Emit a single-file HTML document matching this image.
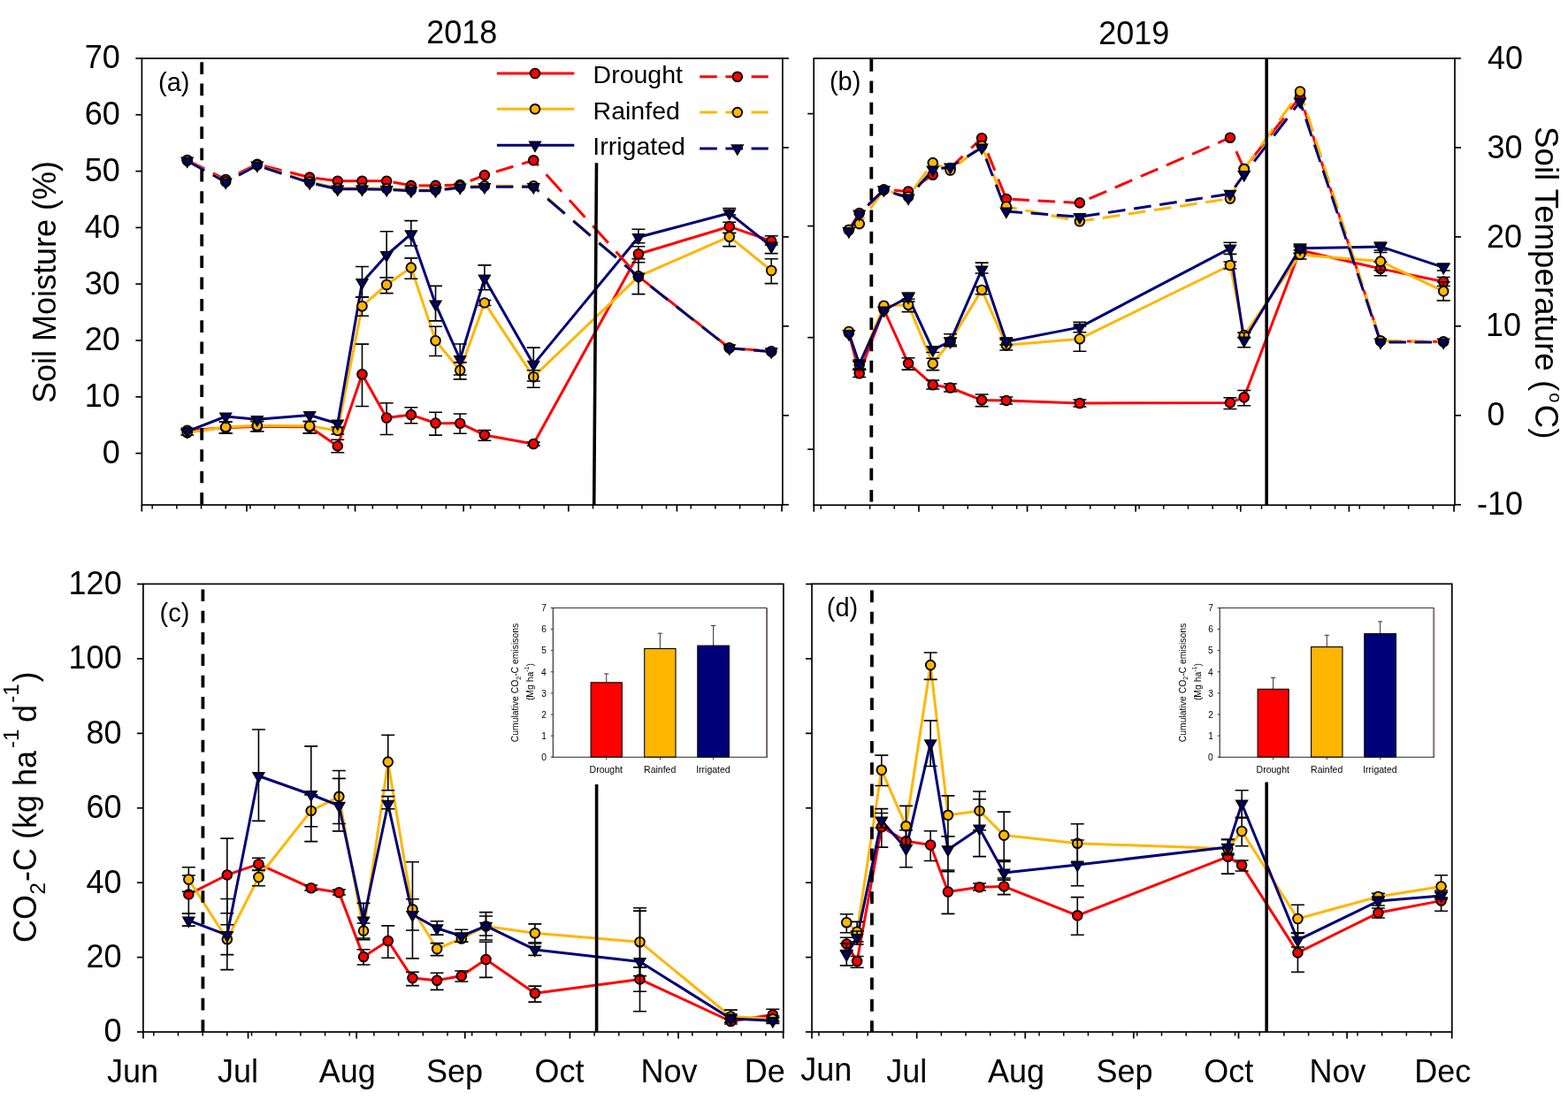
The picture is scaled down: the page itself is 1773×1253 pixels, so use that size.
<!DOCTYPE html><html><head><meta charset="utf-8"><title>Soil moisture, temperature and CO2-C</title><style>html,body{margin:0;padding:0;background:#fff;}</style></head><body><svg width="1773" height="1253" viewBox="0 0 1773 1253" style="display:block;font-family:'Liberation Sans',Arial,sans-serif">
<rect width="1773" height="1253" fill="#fff"/>
<text x="482.3" y="49.3" font-size="36">2018</text>
<text x="1242.3" y="49.8" font-size="36">2019</text>
<line x1="153.4" y1="512.6" x2="160.4" y2="512.6" stroke="#000" stroke-width="1.7"/>
<line x1="153.4" y1="448.8" x2="160.4" y2="448.8" stroke="#000" stroke-width="1.7"/>
<line x1="153.4" y1="385" x2="160.4" y2="385" stroke="#000" stroke-width="1.7"/>
<line x1="153.4" y1="321.2" x2="160.4" y2="321.2" stroke="#000" stroke-width="1.7"/>
<line x1="153.4" y1="257.4" x2="160.4" y2="257.4" stroke="#000" stroke-width="1.7"/>
<line x1="153.4" y1="193.6" x2="160.4" y2="193.6" stroke="#000" stroke-width="1.7"/>
<line x1="153.4" y1="129.8" x2="160.4" y2="129.8" stroke="#000" stroke-width="1.7"/>
<line x1="153.4" y1="66" x2="160.4" y2="66" stroke="#000" stroke-width="1.7"/>
<text x="115.7" y="524" font-size="36">0</text>
<text x="95.7" y="460.2" font-size="36">10</text>
<text x="95.7" y="396.4" font-size="36">20</text>
<text x="95.7" y="332.6" font-size="36">30</text>
<text x="95.7" y="268.8" font-size="36">40</text>
<text x="95.7" y="205" font-size="36">50</text>
<text x="95.7" y="141.2" font-size="36">60</text>
<text x="95.7" y="77.4" font-size="36">70</text>
<line x1="884.9" y1="570.75" x2="891.9" y2="570.75" stroke="#000" stroke-width="1.7"/>
<line x1="884.9" y1="469.8" x2="891.9" y2="469.8" stroke="#000" stroke-width="1.7"/>
<line x1="884.9" y1="368.85" x2="891.9" y2="368.85" stroke="#000" stroke-width="1.7"/>
<line x1="884.9" y1="267.9" x2="891.9" y2="267.9" stroke="#000" stroke-width="1.7"/>
<line x1="884.9" y1="166.95" x2="891.9" y2="166.95" stroke="#000" stroke-width="1.7"/>
<line x1="884.9" y1="66" x2="891.9" y2="66" stroke="#000" stroke-width="1.7"/>
<line x1="160.3" y1="571" x2="160.3" y2="578.5" stroke="#000" stroke-width="1.7"/>
<line x1="278.95" y1="571" x2="278.95" y2="578.5" stroke="#000" stroke-width="1.7"/>
<line x1="401.56" y1="571" x2="401.56" y2="578.5" stroke="#000" stroke-width="1.7"/>
<line x1="524.16" y1="571" x2="524.16" y2="578.5" stroke="#000" stroke-width="1.7"/>
<line x1="642.81" y1="571" x2="642.81" y2="578.5" stroke="#000" stroke-width="1.7"/>
<line x1="765.41" y1="571" x2="765.41" y2="578.5" stroke="#000" stroke-width="1.7"/>
<line x1="884.07" y1="571" x2="884.07" y2="578.5" stroke="#000" stroke-width="1.7"/>
<line x1="172.17" y1="571" x2="172.17" y2="575.5" stroke="#000" stroke-width="1.5"/>
<line x1="199.85" y1="571" x2="199.85" y2="575.5" stroke="#000" stroke-width="1.5"/>
<line x1="227.54" y1="571" x2="227.54" y2="575.5" stroke="#000" stroke-width="1.5"/>
<line x1="255.22" y1="571" x2="255.22" y2="575.5" stroke="#000" stroke-width="1.5"/>
<line x1="282.91" y1="571" x2="282.91" y2="575.5" stroke="#000" stroke-width="1.5"/>
<line x1="310.59" y1="571" x2="310.59" y2="575.5" stroke="#000" stroke-width="1.5"/>
<line x1="338.27" y1="571" x2="338.27" y2="575.5" stroke="#000" stroke-width="1.5"/>
<line x1="365.96" y1="571" x2="365.96" y2="575.5" stroke="#000" stroke-width="1.5"/>
<line x1="393.64" y1="571" x2="393.64" y2="575.5" stroke="#000" stroke-width="1.5"/>
<line x1="421.33" y1="571" x2="421.33" y2="575.5" stroke="#000" stroke-width="1.5"/>
<line x1="449.02" y1="571" x2="449.02" y2="575.5" stroke="#000" stroke-width="1.5"/>
<line x1="476.7" y1="571" x2="476.7" y2="575.5" stroke="#000" stroke-width="1.5"/>
<line x1="504.38" y1="571" x2="504.38" y2="575.5" stroke="#000" stroke-width="1.5"/>
<line x1="532.07" y1="571" x2="532.07" y2="575.5" stroke="#000" stroke-width="1.5"/>
<line x1="559.75" y1="571" x2="559.75" y2="575.5" stroke="#000" stroke-width="1.5"/>
<line x1="587.44" y1="571" x2="587.44" y2="575.5" stroke="#000" stroke-width="1.5"/>
<line x1="615.12" y1="571" x2="615.12" y2="575.5" stroke="#000" stroke-width="1.5"/>
<line x1="670.5" y1="571" x2="670.5" y2="575.5" stroke="#000" stroke-width="1.5"/>
<line x1="698.18" y1="571" x2="698.18" y2="575.5" stroke="#000" stroke-width="1.5"/>
<line x1="725.87" y1="571" x2="725.87" y2="575.5" stroke="#000" stroke-width="1.5"/>
<line x1="753.55" y1="571" x2="753.55" y2="575.5" stroke="#000" stroke-width="1.5"/>
<line x1="781.24" y1="571" x2="781.24" y2="575.5" stroke="#000" stroke-width="1.5"/>
<line x1="808.92" y1="571" x2="808.92" y2="575.5" stroke="#000" stroke-width="1.5"/>
<line x1="836.61" y1="571" x2="836.61" y2="575.5" stroke="#000" stroke-width="1.5"/>
<line x1="864.29" y1="571" x2="864.29" y2="575.5" stroke="#000" stroke-width="1.5"/>
<text x="179" y="102.5" font-size="29">(a)</text>
<polyline points="211.72,486.8 255.22,483.8 290.82,482.2 350.14,482.8 381.78,504.4 409.47,423.3 437.15,472.5 464.84,469.1 492.52,478.5 520.21,478.7 547.89,491.9 603.26,502 721.91,287.3 824.74,256.2 872.2,272.7" fill="none" stroke="#ff0000" stroke-width="3" stroke-linejoin="round"/>
<polyline points="211.72,489.2 255.22,482.9 290.82,481.3 350.14,481.7 381.78,486.9 409.47,346.2 437.15,322 464.84,302.6 492.52,385.3 520.21,418.8 547.89,342.4 603.26,426.2 721.91,312.6 824.74,267.7 872.2,306" fill="none" stroke="#ffb600" stroke-width="3" stroke-linejoin="round"/>
<polyline points="211.72,487.8 255.22,471 290.82,474.3 350.14,469.5 381.78,479 409.47,319.5 437.15,288.5 464.84,264.6 492.52,343.9 520.21,406.5 547.89,314.9 603.26,412.1 721.91,268.3 824.74,241 872.2,278.7" fill="none" stroke="#000078" stroke-width="3" stroke-linejoin="round"/>
<path d="M255.22 477V490M247.72 477H262.72M247.72 490H262.72" stroke="#000" stroke-width="1.6" fill="none"/>
<path d="M290.82 476.5V487.7M283.32 476.5H298.32M283.32 487.7H298.32" stroke="#000" stroke-width="1.6" fill="none"/>
<path d="M350.14 476.5V489.9M342.64 476.5H357.64M342.64 489.9H357.64" stroke="#000" stroke-width="1.6" fill="none"/>
<path d="M381.78 497.3V511.8M374.28 497.3H389.28M374.28 511.8H389.28" stroke="#000" stroke-width="1.6" fill="none"/>
<path d="M409.47 389.1V459.5M401.97 389.1H416.97M401.97 459.5H416.97" stroke="#000" stroke-width="1.6" fill="none"/>
<path d="M437.15 455.7V491.5M429.65 455.7H444.65M429.65 491.5H444.65" stroke="#000" stroke-width="1.6" fill="none"/>
<path d="M464.84 460.8V478.7M457.34 460.8H472.34M457.34 478.7H472.34" stroke="#000" stroke-width="1.6" fill="none"/>
<path d="M492.52 466.2V492.1M485.02 466.2H500.02M485.02 492.1H500.02" stroke="#000" stroke-width="1.6" fill="none"/>
<path d="M520.21 468V490.3M512.71 468H527.71M512.71 490.3H527.71" stroke="#000" stroke-width="1.6" fill="none"/>
<path d="M547.89 486.5V498.2M540.39 486.5H555.39M540.39 498.2H555.39" stroke="#000" stroke-width="1.6" fill="none"/>
<path d="M603.26 500V504M595.76 500H610.76M595.76 504H610.76" stroke="#000" stroke-width="1.6" fill="none"/>
<path d="M721.91 278.7V296.7M714.41 278.7H729.41M714.41 296.7H729.41" stroke="#000" stroke-width="1.6" fill="none"/>
<path d="M824.74 251.3V263.5M817.24 251.3H832.24M817.24 263.5H832.24" stroke="#000" stroke-width="1.6" fill="none"/>
<path d="M872.2 266.7V277M864.7 266.7H879.7M864.7 277H879.7" stroke="#000" stroke-width="1.6" fill="none"/>
<circle cx="211.72" cy="486.8" r="5.35" fill="#ff0000" stroke="#000" stroke-width="1.85"/>
<circle cx="255.22" cy="483.8" r="5.35" fill="#ff0000" stroke="#000" stroke-width="1.85"/>
<circle cx="290.82" cy="482.2" r="5.35" fill="#ff0000" stroke="#000" stroke-width="1.85"/>
<circle cx="350.14" cy="482.8" r="5.35" fill="#ff0000" stroke="#000" stroke-width="1.85"/>
<circle cx="381.78" cy="504.4" r="5.35" fill="#ff0000" stroke="#000" stroke-width="1.85"/>
<circle cx="409.47" cy="423.3" r="5.35" fill="#ff0000" stroke="#000" stroke-width="1.85"/>
<circle cx="437.15" cy="472.5" r="5.35" fill="#ff0000" stroke="#000" stroke-width="1.85"/>
<circle cx="464.84" cy="469.1" r="5.35" fill="#ff0000" stroke="#000" stroke-width="1.85"/>
<circle cx="492.52" cy="478.5" r="5.35" fill="#ff0000" stroke="#000" stroke-width="1.85"/>
<circle cx="520.21" cy="478.7" r="5.35" fill="#ff0000" stroke="#000" stroke-width="1.85"/>
<circle cx="547.89" cy="491.9" r="5.35" fill="#ff0000" stroke="#000" stroke-width="1.85"/>
<circle cx="603.26" cy="502" r="5.35" fill="#ff0000" stroke="#000" stroke-width="1.85"/>
<circle cx="721.91" cy="287.3" r="5.35" fill="#ff0000" stroke="#000" stroke-width="1.85"/>
<circle cx="824.74" cy="256.2" r="5.35" fill="#ff0000" stroke="#000" stroke-width="1.85"/>
<circle cx="872.2" cy="272.7" r="5.35" fill="#ff0000" stroke="#000" stroke-width="1.85"/>
<path d="M211.72 486V492M204.22 486H219.22M204.22 492H219.22" stroke="#000" stroke-width="1.6" fill="none"/>
<path d="M255.22 477V489.9M247.72 477H262.72M247.72 489.9H262.72" stroke="#000" stroke-width="1.6" fill="none"/>
<path d="M290.82 476.5V487.7M283.32 476.5H298.32M283.32 487.7H298.32" stroke="#000" stroke-width="1.6" fill="none"/>
<path d="M350.14 476.5V489.9M342.64 476.5H357.64M342.64 489.9H357.64" stroke="#000" stroke-width="1.6" fill="none"/>
<path d="M381.78 483V491M374.28 483H389.28M374.28 491H389.28" stroke="#000" stroke-width="1.6" fill="none"/>
<path d="M409.47 335.7V357.3M401.97 335.7H416.97M401.97 357.3H416.97" stroke="#000" stroke-width="1.6" fill="none"/>
<path d="M437.15 313.8V331.6M429.65 313.8H444.65M429.65 331.6H444.65" stroke="#000" stroke-width="1.6" fill="none"/>
<path d="M464.84 291.9V315.3M457.34 291.9H472.34M457.34 315.3H472.34" stroke="#000" stroke-width="1.6" fill="none"/>
<path d="M492.52 369.2V402.5M485.02 369.2H500.02M485.02 402.5H500.02" stroke="#000" stroke-width="1.6" fill="none"/>
<path d="M520.21 409.9V428.9M512.71 409.9H527.71M512.71 428.9H527.71" stroke="#000" stroke-width="1.6" fill="none"/>
<path d="M547.89 339.5V345.5M540.39 339.5H555.39M540.39 345.5H555.39" stroke="#000" stroke-width="1.6" fill="none"/>
<path d="M603.26 418.8V438.3M595.76 418.8H610.76M595.76 438.3H610.76" stroke="#000" stroke-width="1.6" fill="none"/>
<path d="M721.91 292.6V332.6M714.41 292.6H729.41M714.41 332.6H729.41" stroke="#000" stroke-width="1.6" fill="none"/>
<path d="M824.74 263.5V278.6M817.24 263.5H832.24M817.24 278.6H832.24" stroke="#000" stroke-width="1.6" fill="none"/>
<path d="M872.2 292.7V320.6M864.7 292.7H879.7M864.7 320.6H879.7" stroke="#000" stroke-width="1.6" fill="none"/>
<circle cx="211.72" cy="489.2" r="5.35" fill="#ffb600" stroke="#000" stroke-width="1.85"/>
<circle cx="255.22" cy="482.9" r="5.35" fill="#ffb600" stroke="#000" stroke-width="1.85"/>
<circle cx="290.82" cy="481.3" r="5.35" fill="#ffb600" stroke="#000" stroke-width="1.85"/>
<circle cx="350.14" cy="481.7" r="5.35" fill="#ffb600" stroke="#000" stroke-width="1.85"/>
<circle cx="381.78" cy="486.9" r="5.35" fill="#ffb600" stroke="#000" stroke-width="1.85"/>
<circle cx="409.47" cy="346.2" r="5.35" fill="#ffb600" stroke="#000" stroke-width="1.85"/>
<circle cx="437.15" cy="322" r="5.35" fill="#ffb600" stroke="#000" stroke-width="1.85"/>
<circle cx="464.84" cy="302.6" r="5.35" fill="#ffb600" stroke="#000" stroke-width="1.85"/>
<circle cx="492.52" cy="385.3" r="5.35" fill="#ffb600" stroke="#000" stroke-width="1.85"/>
<circle cx="520.21" cy="418.8" r="5.35" fill="#ffb600" stroke="#000" stroke-width="1.85"/>
<circle cx="547.89" cy="342.4" r="5.35" fill="#ffb600" stroke="#000" stroke-width="1.85"/>
<circle cx="603.26" cy="426.2" r="5.35" fill="#ffb600" stroke="#000" stroke-width="1.85"/>
<circle cx="721.91" cy="312.6" r="5.35" fill="#ffb600" stroke="#000" stroke-width="1.85"/>
<circle cx="824.74" cy="267.7" r="5.35" fill="#ffb600" stroke="#000" stroke-width="1.85"/>
<circle cx="872.2" cy="306" r="5.35" fill="#ffb600" stroke="#000" stroke-width="1.85"/>
<path d="M409.47 301.5V336.1M401.97 301.5H416.97M401.97 336.1H416.97" stroke="#000" stroke-width="1.6" fill="none"/>
<path d="M437.15 261.7V313.8M429.65 261.7H444.65M429.65 313.8H444.65" stroke="#000" stroke-width="1.6" fill="none"/>
<path d="M464.84 249.6V278M457.34 249.6H472.34M457.34 278H472.34" stroke="#000" stroke-width="1.6" fill="none"/>
<path d="M492.52 323.4V362.9M485.02 323.4H500.02M485.02 362.9H500.02" stroke="#000" stroke-width="1.6" fill="none"/>
<path d="M520.21 389V424M512.71 389H527.71M512.71 424H527.71" stroke="#000" stroke-width="1.6" fill="none"/>
<path d="M547.89 299.9V327.8M540.39 299.9H555.39M540.39 327.8H555.39" stroke="#000" stroke-width="1.6" fill="none"/>
<path d="M603.26 393.1V431M595.76 393.1H610.76M595.76 431H610.76" stroke="#000" stroke-width="1.6" fill="none"/>
<path d="M721.91 259.3V274.8M714.41 259.3H729.41M714.41 274.8H729.41" stroke="#000" stroke-width="1.6" fill="none"/>
<path d="M824.74 235.5V243M817.24 235.5H832.24M817.24 243H832.24" stroke="#000" stroke-width="1.6" fill="none"/>
<path d="M872.2 274.3V286.6M864.7 274.3H879.7M864.7 286.6H879.7" stroke="#000" stroke-width="1.6" fill="none"/>
<polygon points="205.65,484.3 217.78,484.3 211.72,494.8" fill="#000078" stroke="#000" stroke-width="1.85" stroke-linejoin="miter"/>
<polygon points="249.16,467.5 261.28,467.5 255.22,478" fill="#000078" stroke="#000" stroke-width="1.85" stroke-linejoin="miter"/>
<polygon points="284.75,470.8 296.88,470.8 290.82,481.3" fill="#000078" stroke="#000" stroke-width="1.85" stroke-linejoin="miter"/>
<polygon points="344.08,466 356.2,466 350.14,476.5" fill="#000078" stroke="#000" stroke-width="1.85" stroke-linejoin="miter"/>
<polygon points="375.72,475.5 387.84,475.5 381.78,486" fill="#000078" stroke="#000" stroke-width="1.85" stroke-linejoin="miter"/>
<polygon points="403.4,316 415.53,316 409.47,326.5" fill="#000078" stroke="#000" stroke-width="1.85" stroke-linejoin="miter"/>
<polygon points="431.09,285 443.21,285 437.15,295.5" fill="#000078" stroke="#000" stroke-width="1.85" stroke-linejoin="miter"/>
<polygon points="458.77,261.1 470.9,261.1 464.84,271.6" fill="#000078" stroke="#000" stroke-width="1.85" stroke-linejoin="miter"/>
<polygon points="486.46,340.4 498.58,340.4 492.52,350.9" fill="#000078" stroke="#000" stroke-width="1.85" stroke-linejoin="miter"/>
<polygon points="514.14,403 526.27,403 520.21,413.5" fill="#000078" stroke="#000" stroke-width="1.85" stroke-linejoin="miter"/>
<polygon points="541.83,311.4 553.95,311.4 547.89,321.9" fill="#000078" stroke="#000" stroke-width="1.85" stroke-linejoin="miter"/>
<polygon points="597.2,408.6 609.32,408.6 603.26,419.1" fill="#000078" stroke="#000" stroke-width="1.85" stroke-linejoin="miter"/>
<polygon points="715.85,264.8 727.97,264.8 721.91,275.3" fill="#000078" stroke="#000" stroke-width="1.85" stroke-linejoin="miter"/>
<polygon points="818.68,237.5 830.8,237.5 824.74,248" fill="#000078" stroke="#000" stroke-width="1.85" stroke-linejoin="miter"/>
<polygon points="866.14,275.2 878.26,275.2 872.2,285.7" fill="#000078" stroke="#000" stroke-width="1.85" stroke-linejoin="miter"/>
<line x1="211.72" y1="181" x2="255.22" y2="203" stroke="#ff0000" stroke-width="3" stroke-dasharray="21.85 10.76" stroke-dashoffset="0"/>
<line x1="255.22" y1="203" x2="290.82" y2="185.7" stroke="#ff0000" stroke-width="3" stroke-dasharray="21.68 10.67" stroke-dashoffset="16.02"/>
<line x1="290.82" y1="185.7" x2="350.14" y2="200.6" stroke="#ff0000" stroke-width="3" stroke-dasharray="20.11 9.9" stroke-dashoffset="21.55"/>
<line x1="350.14" y1="200.6" x2="381.78" y2="204.7" stroke="#ff0000" stroke-width="3" stroke-dasharray="19.66 9.68" stroke-dashoffset="22.21"/>
<line x1="381.78" y1="204.7" x2="409.47" y2="204.7" stroke="#ff0000" stroke-width="3" stroke-dasharray="19.5 9.6" stroke-dashoffset="24.57"/>
<line x1="409.47" y1="204.7" x2="437.15" y2="204.7" stroke="#ff0000" stroke-width="3" stroke-dasharray="19.5 9.6" stroke-dashoffset="23.15"/>
<line x1="437.15" y1="204.7" x2="464.84" y2="209.9" stroke="#ff0000" stroke-width="3" stroke-dasharray="19.84 9.77" stroke-dashoffset="22.12"/>
<line x1="464.84" y1="209.9" x2="492.52" y2="209.9" stroke="#ff0000" stroke-width="3" stroke-dasharray="19.5 9.6" stroke-dashoffset="20.32"/>
<line x1="492.52" y1="209.9" x2="520.21" y2="209.1" stroke="#ff0000" stroke-width="3" stroke-dasharray="19.51 9.6" stroke-dashoffset="18.91"/>
<line x1="520.21" y1="209.1" x2="547.89" y2="198.1" stroke="#ff0000" stroke-width="3" stroke-dasharray="20.98 10.33" stroke-dashoffset="18.82"/>
<line x1="547.89" y1="198.1" x2="603.26" y2="181.3" stroke="#ff0000" stroke-width="3" stroke-dasharray="20.38 10.03" stroke-dashoffset="16.8"/>
<line x1="603.26" y1="181.3" x2="721.91" y2="312.6" stroke="#ff0000" stroke-width="3" stroke-dasharray="26.28 12.94" stroke-dashoffset="17.85"/>
<line x1="721.91" y1="312.6" x2="824.74" y2="393.4" stroke="#ff0000" stroke-width="3" stroke-dasharray="24.8 12.21" stroke-dashoffset="35.79"/>
<line x1="824.74" y1="393.4" x2="872.2" y2="397.4" stroke="#ff0000" stroke-width="3" stroke-dasharray="19.57 9.63" stroke-dashoffset="14.63"/>
<line x1="211.72" y1="181.5" x2="255.22" y2="205.5" stroke="#ffb600" stroke-width="3" stroke-dasharray="22.27 10.96" stroke-dashoffset="0"/>
<line x1="255.22" y1="205.5" x2="290.82" y2="186.5" stroke="#ffb600" stroke-width="3" stroke-dasharray="22.1 10.88" stroke-dashoffset="16.33"/>
<line x1="290.82" y1="186.5" x2="350.14" y2="205.7" stroke="#ffb600" stroke-width="3" stroke-dasharray="20.5 10.09" stroke-dashoffset="21.97"/>
<line x1="350.14" y1="205.7" x2="381.78" y2="212.8" stroke="#ffb600" stroke-width="3" stroke-dasharray="19.98 9.84" stroke-dashoffset="22.57"/>
<line x1="381.78" y1="212.8" x2="409.47" y2="212.8" stroke="#ffb600" stroke-width="3" stroke-dasharray="19.5 9.6" stroke-dashoffset="24.57"/>
<line x1="409.47" y1="212.8" x2="437.15" y2="213.3" stroke="#ffb600" stroke-width="3" stroke-dasharray="19.5 9.6" stroke-dashoffset="23.15"/>
<line x1="437.15" y1="213.3" x2="464.84" y2="214.7" stroke="#ffb600" stroke-width="3" stroke-dasharray="19.52 9.61" stroke-dashoffset="21.76"/>
<line x1="464.84" y1="214.7" x2="492.52" y2="214.7" stroke="#ffb600" stroke-width="3" stroke-dasharray="19.5 9.6" stroke-dashoffset="20.32"/>
<line x1="492.52" y1="214.7" x2="520.21" y2="211" stroke="#ffb600" stroke-width="3" stroke-dasharray="19.67 9.69" stroke-dashoffset="19.07"/>
<line x1="520.21" y1="211" x2="547.89" y2="210.3" stroke="#ffb600" stroke-width="3" stroke-dasharray="19.51 9.6" stroke-dashoffset="17.5"/>
<line x1="547.89" y1="210.3" x2="603.26" y2="210.3" stroke="#ffb600" stroke-width="3" stroke-dasharray="19.5 9.6" stroke-dashoffset="16.08"/>
<line x1="603.26" y1="210.3" x2="721.91" y2="312.6" stroke="#ffb600" stroke-width="3" stroke-dasharray="25.75 12.68" stroke-dashoffset="17.49"/>
<line x1="721.91" y1="312.6" x2="824.74" y2="393.4" stroke="#ffb600" stroke-width="3" stroke-dasharray="24.8 12.21" stroke-dashoffset="19.71"/>
<line x1="824.74" y1="393.4" x2="872.2" y2="397.4" stroke="#ffb600" stroke-width="3" stroke-dasharray="19.57 9.63" stroke-dashoffset="1.93"/>
<line x1="211.72" y1="182" x2="255.22" y2="206" stroke="#000078" stroke-width="3" stroke-dasharray="22.27 10.96" stroke-dashoffset="0"/>
<line x1="255.22" y1="206" x2="290.82" y2="187" stroke="#000078" stroke-width="3" stroke-dasharray="22.1 10.88" stroke-dashoffset="16.33"/>
<line x1="290.82" y1="187" x2="350.14" y2="206.7" stroke="#000078" stroke-width="3" stroke-dasharray="20.55 10.12" stroke-dashoffset="22.02"/>
<line x1="350.14" y1="206.7" x2="381.78" y2="213.8" stroke="#000078" stroke-width="3" stroke-dasharray="19.98 9.84" stroke-dashoffset="22.57"/>
<line x1="381.78" y1="213.8" x2="409.47" y2="213.8" stroke="#000078" stroke-width="3" stroke-dasharray="19.5 9.6" stroke-dashoffset="24.57"/>
<line x1="409.47" y1="213.8" x2="437.15" y2="214.3" stroke="#000078" stroke-width="3" stroke-dasharray="19.5 9.6" stroke-dashoffset="23.15"/>
<line x1="437.15" y1="214.3" x2="464.84" y2="215.7" stroke="#000078" stroke-width="3" stroke-dasharray="19.52 9.61" stroke-dashoffset="21.76"/>
<line x1="464.84" y1="215.7" x2="492.52" y2="215.7" stroke="#000078" stroke-width="3" stroke-dasharray="19.5 9.6" stroke-dashoffset="20.32"/>
<line x1="492.52" y1="215.7" x2="520.21" y2="212" stroke="#000078" stroke-width="3" stroke-dasharray="19.67 9.69" stroke-dashoffset="19.07"/>
<line x1="520.21" y1="212" x2="547.89" y2="211.3" stroke="#000078" stroke-width="3" stroke-dasharray="19.51 9.6" stroke-dashoffset="17.5"/>
<line x1="547.89" y1="211.3" x2="603.26" y2="211.3" stroke="#000078" stroke-width="3" stroke-dasharray="19.5 9.6" stroke-dashoffset="16.08"/>
<line x1="603.26" y1="211.3" x2="721.91" y2="313" stroke="#000078" stroke-width="3" stroke-dasharray="25.68 12.64" stroke-dashoffset="17.44"/>
<line x1="721.91" y1="313" x2="824.74" y2="393.7" stroke="#000078" stroke-width="3" stroke-dasharray="24.79 12.2" stroke-dashoffset="19.7"/>
<line x1="824.74" y1="393.7" x2="872.2" y2="397.7" stroke="#000078" stroke-width="3" stroke-dasharray="19.57 9.63" stroke-dashoffset="1.93"/>
<circle cx="211.72" cy="181" r="5.35" fill="#ff0000" stroke="#000" stroke-width="1.85"/>
<circle cx="255.22" cy="203" r="5.35" fill="#ff0000" stroke="#000" stroke-width="1.85"/>
<circle cx="290.82" cy="185.7" r="5.35" fill="#ff0000" stroke="#000" stroke-width="1.85"/>
<circle cx="350.14" cy="200.6" r="5.35" fill="#ff0000" stroke="#000" stroke-width="1.85"/>
<circle cx="381.78" cy="204.7" r="5.35" fill="#ff0000" stroke="#000" stroke-width="1.85"/>
<circle cx="409.47" cy="204.7" r="5.35" fill="#ff0000" stroke="#000" stroke-width="1.85"/>
<circle cx="437.15" cy="204.7" r="5.35" fill="#ff0000" stroke="#000" stroke-width="1.85"/>
<circle cx="464.84" cy="209.9" r="5.35" fill="#ff0000" stroke="#000" stroke-width="1.85"/>
<circle cx="492.52" cy="209.9" r="5.35" fill="#ff0000" stroke="#000" stroke-width="1.85"/>
<circle cx="520.21" cy="209.1" r="5.35" fill="#ff0000" stroke="#000" stroke-width="1.85"/>
<circle cx="547.89" cy="198.1" r="5.35" fill="#ff0000" stroke="#000" stroke-width="1.85"/>
<circle cx="603.26" cy="181.3" r="5.35" fill="#ff0000" stroke="#000" stroke-width="1.85"/>
<circle cx="721.91" cy="312.6" r="5.35" fill="#ff0000" stroke="#000" stroke-width="1.85"/>
<circle cx="824.74" cy="393.4" r="5.35" fill="#ff0000" stroke="#000" stroke-width="1.85"/>
<circle cx="872.2" cy="397.4" r="5.35" fill="#ff0000" stroke="#000" stroke-width="1.85"/>
<circle cx="211.72" cy="181.5" r="5.35" fill="#ffb600" stroke="#000" stroke-width="1.85"/>
<circle cx="255.22" cy="205.5" r="5.35" fill="#ffb600" stroke="#000" stroke-width="1.85"/>
<circle cx="290.82" cy="186.5" r="5.35" fill="#ffb600" stroke="#000" stroke-width="1.85"/>
<circle cx="350.14" cy="205.7" r="5.35" fill="#ffb600" stroke="#000" stroke-width="1.85"/>
<circle cx="381.78" cy="212.8" r="5.35" fill="#ffb600" stroke="#000" stroke-width="1.85"/>
<circle cx="409.47" cy="212.8" r="5.35" fill="#ffb600" stroke="#000" stroke-width="1.85"/>
<circle cx="437.15" cy="213.3" r="5.35" fill="#ffb600" stroke="#000" stroke-width="1.85"/>
<circle cx="464.84" cy="214.7" r="5.35" fill="#ffb600" stroke="#000" stroke-width="1.85"/>
<circle cx="492.52" cy="214.7" r="5.35" fill="#ffb600" stroke="#000" stroke-width="1.85"/>
<circle cx="520.21" cy="211" r="5.35" fill="#ffb600" stroke="#000" stroke-width="1.85"/>
<circle cx="547.89" cy="210.3" r="5.35" fill="#ffb600" stroke="#000" stroke-width="1.85"/>
<circle cx="603.26" cy="210.3" r="5.35" fill="#ffb600" stroke="#000" stroke-width="1.85"/>
<circle cx="721.91" cy="312.6" r="5.35" fill="#ffb600" stroke="#000" stroke-width="1.85"/>
<circle cx="824.74" cy="393.4" r="5.35" fill="#ffb600" stroke="#000" stroke-width="1.85"/>
<circle cx="872.2" cy="397.4" r="5.35" fill="#ffb600" stroke="#000" stroke-width="1.85"/>
<polygon points="205.65,178.5 217.78,178.5 211.72,189" fill="#000078" stroke="#000" stroke-width="1.85" stroke-linejoin="miter"/>
<polygon points="249.16,202.5 261.28,202.5 255.22,213" fill="#000078" stroke="#000" stroke-width="1.85" stroke-linejoin="miter"/>
<polygon points="284.75,183.5 296.88,183.5 290.82,194" fill="#000078" stroke="#000" stroke-width="1.85" stroke-linejoin="miter"/>
<polygon points="344.08,203.2 356.2,203.2 350.14,213.7" fill="#000078" stroke="#000" stroke-width="1.85" stroke-linejoin="miter"/>
<polygon points="375.72,210.3 387.84,210.3 381.78,220.8" fill="#000078" stroke="#000" stroke-width="1.85" stroke-linejoin="miter"/>
<polygon points="403.4,210.3 415.53,210.3 409.47,220.8" fill="#000078" stroke="#000" stroke-width="1.85" stroke-linejoin="miter"/>
<polygon points="431.09,210.8 443.21,210.8 437.15,221.3" fill="#000078" stroke="#000" stroke-width="1.85" stroke-linejoin="miter"/>
<polygon points="458.77,212.2 470.9,212.2 464.84,222.7" fill="#000078" stroke="#000" stroke-width="1.85" stroke-linejoin="miter"/>
<polygon points="486.46,212.2 498.58,212.2 492.52,222.7" fill="#000078" stroke="#000" stroke-width="1.85" stroke-linejoin="miter"/>
<polygon points="514.14,208.5 526.27,208.5 520.21,219" fill="#000078" stroke="#000" stroke-width="1.85" stroke-linejoin="miter"/>
<polygon points="541.83,207.8 553.95,207.8 547.89,218.3" fill="#000078" stroke="#000" stroke-width="1.85" stroke-linejoin="miter"/>
<polygon points="597.2,207.8 609.32,207.8 603.26,218.3" fill="#000078" stroke="#000" stroke-width="1.85" stroke-linejoin="miter"/>
<polygon points="715.85,309.5 727.97,309.5 721.91,320" fill="#000078" stroke="#000" stroke-width="1.85" stroke-linejoin="miter"/>
<polygon points="818.68,390.2 830.8,390.2 824.74,400.7" fill="#000078" stroke="#000" stroke-width="1.85" stroke-linejoin="miter"/>
<polygon points="866.14,394.2 878.26,394.2 872.2,404.7" fill="#000078" stroke="#000" stroke-width="1.85" stroke-linejoin="miter"/>
<line x1="561.9" y1="83" x2="649.3" y2="83" stroke="#ff0000" stroke-width="3"/>
<circle cx="605" cy="83" r="5.35" fill="#ff0000" stroke="#000" stroke-width="1.85"/>
<text x="670.6" y="93.7" font-size="28.5">Drought</text>
<line x1="791.2" y1="86.8" x2="868.7" y2="86.8" stroke="#ff0000" stroke-width="3" stroke-dasharray="19.6 9.6"/>
<circle cx="833.8" cy="86.8" r="5.35" fill="#ff0000" stroke="#000" stroke-width="1.85"/>
<line x1="561.9" y1="123.3" x2="649.3" y2="123.3" stroke="#ffb600" stroke-width="3"/>
<circle cx="605" cy="123.3" r="5.35" fill="#ffb600" stroke="#000" stroke-width="1.85"/>
<text x="670.6" y="134.7" font-size="28.5">Rainfed</text>
<line x1="791.2" y1="127.1" x2="868.7" y2="127.1" stroke="#ffb600" stroke-width="3" stroke-dasharray="19.6 9.6"/>
<circle cx="833.8" cy="127.1" r="5.35" fill="#ffb600" stroke="#000" stroke-width="1.85"/>
<line x1="561.9" y1="164.3" x2="649.3" y2="164.3" stroke="#000078" stroke-width="3"/>
<polygon points="598.94,160.3 611.06,160.3 605,170.8" fill="#000078" stroke="#000" stroke-width="1.85" stroke-linejoin="miter"/>
<text x="670.3" y="174.7" font-size="28.5">Irrigated</text>
<line x1="791.2" y1="168.1" x2="868.7" y2="168.1" stroke="#000078" stroke-width="3" stroke-dasharray="19.6 9.6"/>
<polygon points="827.74,164.1 839.86,164.1 833.8,174.6" fill="#000078" stroke="#000" stroke-width="1.85" stroke-linejoin="miter"/>
<line x1="228.2" y1="70.2" x2="228.2" y2="571" stroke="#000" stroke-width="3.8" stroke-dasharray="13.7 10.64"/>
<line x1="674.5" y1="184.2" x2="671.7" y2="571" stroke="#000" stroke-width="3.6"/>
<rect x="160.4" y="66" width="724.5" height="505" fill="none" stroke="#000" stroke-width="1.7"/>
<line x1="913.2" y1="128.6" x2="920.2" y2="128.6" stroke="#000" stroke-width="1.7"/>
<line x1="913.2" y1="255.6" x2="920.2" y2="255.6" stroke="#000" stroke-width="1.7"/>
<line x1="913.2" y1="381.7" x2="920.2" y2="381.7" stroke="#000" stroke-width="1.7"/>
<line x1="913.2" y1="508.1" x2="920.2" y2="508.1" stroke="#000" stroke-width="1.7"/>
<line x1="1645" y1="570.75" x2="1652" y2="570.75" stroke="#000" stroke-width="1.7"/>
<line x1="1645" y1="469.8" x2="1652" y2="469.8" stroke="#000" stroke-width="1.7"/>
<line x1="1645" y1="368.85" x2="1652" y2="368.85" stroke="#000" stroke-width="1.7"/>
<line x1="1645" y1="267.9" x2="1652" y2="267.9" stroke="#000" stroke-width="1.7"/>
<line x1="1645" y1="166.95" x2="1652" y2="166.95" stroke="#000" stroke-width="1.7"/>
<line x1="1645" y1="66" x2="1652" y2="66" stroke="#000" stroke-width="1.7"/>
<text x="1669.9" y="582.35" font-size="36">-10</text>
<text x="1681.4" y="481.4" font-size="36">0</text>
<text x="1680.1" y="380.45" font-size="36">10</text>
<text x="1681" y="279.5" font-size="36">20</text>
<text x="1681.4" y="178.55" font-size="36">30</text>
<text x="1682" y="77.6" font-size="36">40</text>
<line x1="920.3" y1="571.2" x2="920.3" y2="578.7" stroke="#000" stroke-width="1.7"/>
<line x1="1038.95" y1="571.2" x2="1038.95" y2="578.7" stroke="#000" stroke-width="1.7"/>
<line x1="1161.55" y1="571.2" x2="1161.55" y2="578.7" stroke="#000" stroke-width="1.7"/>
<line x1="1284.16" y1="571.2" x2="1284.16" y2="578.7" stroke="#000" stroke-width="1.7"/>
<line x1="1402.81" y1="571.2" x2="1402.81" y2="578.7" stroke="#000" stroke-width="1.7"/>
<line x1="1525.41" y1="571.2" x2="1525.41" y2="578.7" stroke="#000" stroke-width="1.7"/>
<line x1="1644.07" y1="571.2" x2="1644.07" y2="578.7" stroke="#000" stroke-width="1.7"/>
<line x1="928.21" y1="571.2" x2="928.21" y2="575.7" stroke="#000" stroke-width="1.5"/>
<line x1="955.89" y1="571.2" x2="955.89" y2="575.7" stroke="#000" stroke-width="1.5"/>
<line x1="983.58" y1="571.2" x2="983.58" y2="575.7" stroke="#000" stroke-width="1.5"/>
<line x1="1011.26" y1="571.2" x2="1011.26" y2="575.7" stroke="#000" stroke-width="1.5"/>
<line x1="1066.63" y1="571.2" x2="1066.63" y2="575.7" stroke="#000" stroke-width="1.5"/>
<line x1="1094.32" y1="571.2" x2="1094.32" y2="575.7" stroke="#000" stroke-width="1.5"/>
<line x1="1122" y1="571.2" x2="1122" y2="575.7" stroke="#000" stroke-width="1.5"/>
<line x1="1149.69" y1="571.2" x2="1149.69" y2="575.7" stroke="#000" stroke-width="1.5"/>
<line x1="1177.38" y1="571.2" x2="1177.38" y2="575.7" stroke="#000" stroke-width="1.5"/>
<line x1="1205.06" y1="571.2" x2="1205.06" y2="575.7" stroke="#000" stroke-width="1.5"/>
<line x1="1232.74" y1="571.2" x2="1232.74" y2="575.7" stroke="#000" stroke-width="1.5"/>
<line x1="1260.43" y1="571.2" x2="1260.43" y2="575.7" stroke="#000" stroke-width="1.5"/>
<line x1="1288.12" y1="571.2" x2="1288.12" y2="575.7" stroke="#000" stroke-width="1.5"/>
<line x1="1315.8" y1="571.2" x2="1315.8" y2="575.7" stroke="#000" stroke-width="1.5"/>
<line x1="1343.48" y1="571.2" x2="1343.48" y2="575.7" stroke="#000" stroke-width="1.5"/>
<line x1="1371.17" y1="571.2" x2="1371.17" y2="575.7" stroke="#000" stroke-width="1.5"/>
<line x1="1398.86" y1="571.2" x2="1398.86" y2="575.7" stroke="#000" stroke-width="1.5"/>
<line x1="1426.54" y1="571.2" x2="1426.54" y2="575.7" stroke="#000" stroke-width="1.5"/>
<line x1="1454.22" y1="571.2" x2="1454.22" y2="575.7" stroke="#000" stroke-width="1.5"/>
<line x1="1481.91" y1="571.2" x2="1481.91" y2="575.7" stroke="#000" stroke-width="1.5"/>
<line x1="1509.59" y1="571.2" x2="1509.59" y2="575.7" stroke="#000" stroke-width="1.5"/>
<line x1="1537.28" y1="571.2" x2="1537.28" y2="575.7" stroke="#000" stroke-width="1.5"/>
<line x1="1564.96" y1="571.2" x2="1564.96" y2="575.7" stroke="#000" stroke-width="1.5"/>
<line x1="1592.65" y1="571.2" x2="1592.65" y2="575.7" stroke="#000" stroke-width="1.5"/>
<line x1="1620.34" y1="571.2" x2="1620.34" y2="575.7" stroke="#000" stroke-width="1.5"/>
<text x="937.9" y="101.6" font-size="29">(b)</text>
<polyline points="959.85,376.5 971.71,422.3 999.4,350 1027.09,410.9 1054.77,435.2 1074.55,438.5 1110.14,452.4 1137.83,452.9 1220.88,456 1390.94,455.4 1406.76,449.3 1470.05,283 1561.01,303.9 1632.2,318.5" fill="none" stroke="#ff0000" stroke-width="3" stroke-linejoin="round"/>
<polyline points="959.85,375 971.71,412.5 999.4,345.8 1027.09,344.7 1054.77,411.2 1074.55,386.2 1110.14,327.9 1137.83,390.2 1220.88,383.2 1390.94,300 1406.76,379.1 1470.05,287.9 1561.01,295.6 1632.2,329.3" fill="none" stroke="#ffb600" stroke-width="3" stroke-linejoin="round"/>
<polyline points="959.85,377.5 971.71,411.8 999.4,351 1027.09,335.9 1054.77,395.7 1074.55,386.2 1110.14,304.8 1137.83,386.2 1220.88,370.1 1390.94,280.8 1406.76,385 1470.05,280.8 1561.01,278.9 1632.2,302.3" fill="none" stroke="#000078" stroke-width="3" stroke-linejoin="round"/>
<path d="M971.71 418.5V426.5M964.21 418.5H979.21M964.21 426.5H979.21" stroke="#000" stroke-width="1.6" fill="none"/>
<path d="M1027.09 404.8V418.1M1019.59 404.8H1034.59M1019.59 418.1H1034.59" stroke="#000" stroke-width="1.6" fill="none"/>
<path d="M1054.77 430V440M1047.27 430H1062.27M1047.27 440H1062.27" stroke="#000" stroke-width="1.6" fill="none"/>
<path d="M1074.55 434V443M1067.05 434H1082.05M1067.05 443H1082.05" stroke="#000" stroke-width="1.6" fill="none"/>
<path d="M1110.14 446V459.6M1102.64 446H1117.64M1102.64 459.6H1117.64" stroke="#000" stroke-width="1.6" fill="none"/>
<path d="M1137.83 449V457M1130.33 449H1145.33M1130.33 457H1145.33" stroke="#000" stroke-width="1.6" fill="none"/>
<path d="M1220.88 452V460M1213.38 452H1228.38M1213.38 460H1228.38" stroke="#000" stroke-width="1.6" fill="none"/>
<path d="M1390.94 449.8V462.5M1383.44 449.8H1398.44M1383.44 462.5H1398.44" stroke="#000" stroke-width="1.6" fill="none"/>
<path d="M1406.76 441.5V458.8M1399.26 441.5H1414.26M1399.26 458.8H1414.26" stroke="#000" stroke-width="1.6" fill="none"/>
<path d="M1470.05 279V287M1462.55 279H1477.55M1462.55 287H1477.55" stroke="#000" stroke-width="1.6" fill="none"/>
<path d="M1561.01 296V311.8M1553.51 296H1568.51M1553.51 311.8H1568.51" stroke="#000" stroke-width="1.6" fill="none"/>
<path d="M1632.2 313.5V323.5M1624.7 313.5H1639.7M1624.7 323.5H1639.7" stroke="#000" stroke-width="1.6" fill="none"/>
<circle cx="959.85" cy="376.5" r="5.35" fill="#ff0000" stroke="#000" stroke-width="1.85"/>
<circle cx="971.71" cy="422.3" r="5.35" fill="#ff0000" stroke="#000" stroke-width="1.85"/>
<circle cx="999.4" cy="350" r="5.35" fill="#ff0000" stroke="#000" stroke-width="1.85"/>
<circle cx="1027.09" cy="410.9" r="5.35" fill="#ff0000" stroke="#000" stroke-width="1.85"/>
<circle cx="1054.77" cy="435.2" r="5.35" fill="#ff0000" stroke="#000" stroke-width="1.85"/>
<circle cx="1074.55" cy="438.5" r="5.35" fill="#ff0000" stroke="#000" stroke-width="1.85"/>
<circle cx="1110.14" cy="452.4" r="5.35" fill="#ff0000" stroke="#000" stroke-width="1.85"/>
<circle cx="1137.83" cy="452.9" r="5.35" fill="#ff0000" stroke="#000" stroke-width="1.85"/>
<circle cx="1220.88" cy="456" r="5.35" fill="#ff0000" stroke="#000" stroke-width="1.85"/>
<circle cx="1390.94" cy="455.4" r="5.35" fill="#ff0000" stroke="#000" stroke-width="1.85"/>
<circle cx="1406.76" cy="449.3" r="5.35" fill="#ff0000" stroke="#000" stroke-width="1.85"/>
<circle cx="1470.05" cy="283" r="5.35" fill="#ff0000" stroke="#000" stroke-width="1.85"/>
<circle cx="1561.01" cy="303.9" r="5.35" fill="#ff0000" stroke="#000" stroke-width="1.85"/>
<circle cx="1632.2" cy="318.5" r="5.35" fill="#ff0000" stroke="#000" stroke-width="1.85"/>
<path d="M971.71 407V418M964.21 407H979.21M964.21 418H979.21" stroke="#000" stroke-width="1.6" fill="none"/>
<path d="M1027.09 338.3V352.6M1019.59 338.3H1034.59M1019.59 352.6H1034.59" stroke="#000" stroke-width="1.6" fill="none"/>
<path d="M1054.77 405.3V418.6M1047.27 405.3H1062.27M1047.27 418.6H1062.27" stroke="#000" stroke-width="1.6" fill="none"/>
<path d="M1074.55 382V390M1067.05 382H1082.05M1067.05 390H1082.05" stroke="#000" stroke-width="1.6" fill="none"/>
<path d="M1110.14 324.4V332.7M1102.64 324.4H1117.64M1102.64 332.7H1117.64" stroke="#000" stroke-width="1.6" fill="none"/>
<path d="M1137.83 384V396M1130.33 384H1145.33M1130.33 396H1145.33" stroke="#000" stroke-width="1.6" fill="none"/>
<path d="M1220.88 369V397.2M1213.38 369H1228.38M1213.38 397.2H1228.38" stroke="#000" stroke-width="1.6" fill="none"/>
<path d="M1390.94 296V304M1383.44 296H1398.44M1383.44 304H1398.44" stroke="#000" stroke-width="1.6" fill="none"/>
<path d="M1406.76 376.3V382M1399.26 376.3H1414.26M1399.26 382H1414.26" stroke="#000" stroke-width="1.6" fill="none"/>
<path d="M1470.05 283V293M1462.55 283H1477.55M1462.55 293H1477.55" stroke="#000" stroke-width="1.6" fill="none"/>
<path d="M1561.01 285.5V305.7M1553.51 285.5H1568.51M1553.51 305.7H1568.51" stroke="#000" stroke-width="1.6" fill="none"/>
<path d="M1632.2 318.7V339.9M1624.7 318.7H1639.7M1624.7 339.9H1639.7" stroke="#000" stroke-width="1.6" fill="none"/>
<circle cx="959.85" cy="375" r="5.35" fill="#ffb600" stroke="#000" stroke-width="1.85"/>
<circle cx="971.71" cy="412.5" r="5.35" fill="#ffb600" stroke="#000" stroke-width="1.85"/>
<circle cx="999.4" cy="345.8" r="5.35" fill="#ffb600" stroke="#000" stroke-width="1.85"/>
<circle cx="1027.09" cy="344.7" r="5.35" fill="#ffb600" stroke="#000" stroke-width="1.85"/>
<circle cx="1054.77" cy="411.2" r="5.35" fill="#ffb600" stroke="#000" stroke-width="1.85"/>
<circle cx="1074.55" cy="386.2" r="5.35" fill="#ffb600" stroke="#000" stroke-width="1.85"/>
<circle cx="1110.14" cy="327.9" r="5.35" fill="#ffb600" stroke="#000" stroke-width="1.85"/>
<circle cx="1137.83" cy="390.2" r="5.35" fill="#ffb600" stroke="#000" stroke-width="1.85"/>
<circle cx="1220.88" cy="383.2" r="5.35" fill="#ffb600" stroke="#000" stroke-width="1.85"/>
<circle cx="1390.94" cy="300" r="5.35" fill="#ffb600" stroke="#000" stroke-width="1.85"/>
<circle cx="1406.76" cy="379.1" r="5.35" fill="#ffb600" stroke="#000" stroke-width="1.85"/>
<circle cx="1470.05" cy="287.9" r="5.35" fill="#ffb600" stroke="#000" stroke-width="1.85"/>
<circle cx="1561.01" cy="295.6" r="5.35" fill="#ffb600" stroke="#000" stroke-width="1.85"/>
<circle cx="1632.2" cy="329.3" r="5.35" fill="#ffb600" stroke="#000" stroke-width="1.85"/>
<path d="M971.71 409V417M964.21 409H979.21M964.21 417H979.21" stroke="#000" stroke-width="1.6" fill="none"/>
<path d="M1027.09 331V341M1019.59 331H1034.59M1019.59 341H1034.59" stroke="#000" stroke-width="1.6" fill="none"/>
<path d="M1054.77 391.7V398.5M1047.27 391.7H1062.27M1047.27 398.5H1062.27" stroke="#000" stroke-width="1.6" fill="none"/>
<path d="M1074.55 377.7V391.7M1067.05 377.7H1082.05M1067.05 391.7H1082.05" stroke="#000" stroke-width="1.6" fill="none"/>
<path d="M1110.14 297.1V309M1102.64 297.1H1117.64M1102.64 309H1117.64" stroke="#000" stroke-width="1.6" fill="none"/>
<path d="M1137.83 382V390M1130.33 382H1145.33M1130.33 390H1145.33" stroke="#000" stroke-width="1.6" fill="none"/>
<path d="M1220.88 364.2V375.8M1213.38 364.2H1228.38M1213.38 375.8H1228.38" stroke="#000" stroke-width="1.6" fill="none"/>
<path d="M1390.94 274.3V287.4M1383.44 274.3H1398.44M1383.44 287.4H1398.44" stroke="#000" stroke-width="1.6" fill="none"/>
<path d="M1406.76 376.3V392.7M1399.26 376.3H1414.26M1399.26 392.7H1414.26" stroke="#000" stroke-width="1.6" fill="none"/>
<path d="M1470.05 276V286M1462.55 276H1477.55M1462.55 286H1477.55" stroke="#000" stroke-width="1.6" fill="none"/>
<path d="M1561.01 274V283M1553.51 274H1568.51M1553.51 283H1568.51" stroke="#000" stroke-width="1.6" fill="none"/>
<path d="M1632.2 298V306M1624.7 298H1639.7M1624.7 306H1639.7" stroke="#000" stroke-width="1.6" fill="none"/>
<polygon points="953.79,374 965.91,374 959.85,384.5" fill="#000078" stroke="#000" stroke-width="1.85" stroke-linejoin="miter"/>
<polygon points="965.65,408.3 977.78,408.3 971.71,418.8" fill="#000078" stroke="#000" stroke-width="1.85" stroke-linejoin="miter"/>
<polygon points="993.34,347.5 1005.46,347.5 999.4,358" fill="#000078" stroke="#000" stroke-width="1.85" stroke-linejoin="miter"/>
<polygon points="1021.02,332.4 1033.15,332.4 1027.09,342.9" fill="#000078" stroke="#000" stroke-width="1.85" stroke-linejoin="miter"/>
<polygon points="1048.71,392.2 1060.83,392.2 1054.77,402.7" fill="#000078" stroke="#000" stroke-width="1.85" stroke-linejoin="miter"/>
<polygon points="1068.48,382.7 1080.61,382.7 1074.55,393.2" fill="#000078" stroke="#000" stroke-width="1.85" stroke-linejoin="miter"/>
<polygon points="1104.08,301.3 1116.2,301.3 1110.14,311.8" fill="#000078" stroke="#000" stroke-width="1.85" stroke-linejoin="miter"/>
<polygon points="1131.76,382.7 1143.89,382.7 1137.83,393.2" fill="#000078" stroke="#000" stroke-width="1.85" stroke-linejoin="miter"/>
<polygon points="1214.82,366.6 1226.94,366.6 1220.88,377.1" fill="#000078" stroke="#000" stroke-width="1.85" stroke-linejoin="miter"/>
<polygon points="1384.88,277.3 1397.01,277.3 1390.94,287.8" fill="#000078" stroke="#000" stroke-width="1.85" stroke-linejoin="miter"/>
<polygon points="1400.7,381.5 1412.83,381.5 1406.76,392" fill="#000078" stroke="#000" stroke-width="1.85" stroke-linejoin="miter"/>
<polygon points="1463.98,277.3 1476.11,277.3 1470.05,287.8" fill="#000078" stroke="#000" stroke-width="1.85" stroke-linejoin="miter"/>
<polygon points="1554.95,275.4 1567.07,275.4 1561.01,285.9" fill="#000078" stroke="#000" stroke-width="1.85" stroke-linejoin="miter"/>
<polygon points="1626.14,298.8 1638.26,298.8 1632.2,309.3" fill="#000078" stroke="#000" stroke-width="1.85" stroke-linejoin="miter"/>
<line x1="959.85" y1="260" x2="971.71" y2="241" stroke="#ff0000" stroke-width="3" stroke-dasharray="22.99 11.32" stroke-dashoffset="0"/>
<line x1="971.71" y1="241" x2="999.4" y2="214.5" stroke="#ff0000" stroke-width="3" stroke-dasharray="26.99 13.29" stroke-dashoffset="26.3"/>
<line x1="999.4" y1="214.5" x2="1027.09" y2="216.5" stroke="#ff0000" stroke-width="3" stroke-dasharray="19.55 9.63" stroke-dashoffset="17.63"/>
<line x1="1027.09" y1="216.5" x2="1054.77" y2="197.7" stroke="#ff0000" stroke-width="3" stroke-dasharray="23.57 11.6" stroke-dashoffset="19.55"/>
<line x1="1054.77" y1="197.7" x2="1074.55" y2="190" stroke="#ff0000" stroke-width="3" stroke-dasharray="20.93 10.3" stroke-dashoffset="15.83"/>
<line x1="1074.55" y1="190" x2="1110.14" y2="156.2" stroke="#ff0000" stroke-width="3" stroke-dasharray="26.89 13.24" stroke-dashoffset="7.49"/>
<line x1="1110.14" y1="156.2" x2="1137.83" y2="225" stroke="#ff0000" stroke-width="3" stroke-dasharray="21.02 10.35" stroke-dashoffset="12.85"/>
<line x1="1137.83" y1="225" x2="1220.88" y2="229.4" stroke="#ff0000" stroke-width="3" stroke-dasharray="19.53 9.61" stroke-dashoffset="22.56"/>
<line x1="1220.88" y1="229.4" x2="1390.94" y2="155.7" stroke="#ff0000" stroke-width="3" stroke-dasharray="21.25 10.46" stroke-dashoffset="19.92"/>
<line x1="1390.94" y1="155.7" x2="1406.76" y2="191" stroke="#ff0000" stroke-width="3" stroke-dasharray="21.37 10.52" stroke-dashoffset="15.06"/>
<line x1="1406.76" y1="191" x2="1470.05" y2="109.5" stroke="#ff0000" stroke-width="3" stroke-dasharray="24.69 12.15" stroke-dashoffset="25.25"/>
<line x1="1470.05" y1="109.5" x2="1561.01" y2="385.5" stroke="#ff0000" stroke-width="3" stroke-dasharray="20.53 10.11" stroke-dashoffset="14.89"/>
<line x1="1561.01" y1="385.5" x2="1632.2" y2="386.4" stroke="#ff0000" stroke-width="3" stroke-dasharray="19.5 9.6" stroke-dashoffset="28.25"/>
<line x1="959.85" y1="260" x2="971.71" y2="253.1" stroke="#ffb600" stroke-width="3" stroke-dasharray="22.56 11.11" stroke-dashoffset="0"/>
<line x1="971.71" y1="253.1" x2="999.4" y2="214.6" stroke="#ffb600" stroke-width="3" stroke-dasharray="24.02 11.82" stroke-dashoffset="14.61"/>
<line x1="999.4" y1="214.6" x2="1027.09" y2="222.5" stroke="#ffb600" stroke-width="3" stroke-dasharray="20.28 9.98" stroke-dashoffset="22.11"/>
<line x1="1027.09" y1="222.5" x2="1054.77" y2="184.1" stroke="#ffb600" stroke-width="3" stroke-dasharray="24.04 11.83" stroke-dashoffset="24.47"/>
<line x1="1054.77" y1="184.1" x2="1074.55" y2="192.5" stroke="#ffb600" stroke-width="3" stroke-dasharray="21.19 10.43" stroke-dashoffset="0.05"/>
<line x1="1074.55" y1="192.5" x2="1110.14" y2="165" stroke="#ffb600" stroke-width="3" stroke-dasharray="24.64 12.13" stroke-dashoffset="25.05"/>
<line x1="1110.14" y1="165" x2="1137.83" y2="233.5" stroke="#ffb600" stroke-width="3" stroke-dasharray="21.03 10.35" stroke-dashoffset="28.39"/>
<line x1="1137.83" y1="233.5" x2="1220.88" y2="250.3" stroke="#ffb600" stroke-width="3" stroke-dasharray="19.89 9.79" stroke-dashoffset="7.67"/>
<line x1="1220.88" y1="250.3" x2="1390.94" y2="224.6" stroke="#ffb600" stroke-width="3" stroke-dasharray="19.72 9.71" stroke-dashoffset="3.31"/>
<line x1="1390.94" y1="224.6" x2="1406.76" y2="191.2" stroke="#ffb600" stroke-width="3" stroke-dasharray="21.58 10.62" stroke-dashoffset="30.81"/>
<line x1="1406.76" y1="191.2" x2="1470.05" y2="103.5" stroke="#ffb600" stroke-width="3" stroke-dasharray="24.05 11.84" stroke-dashoffset="3.75"/>
<line x1="1470.05" y1="103.5" x2="1561.01" y2="385.5" stroke="#ffb600" stroke-width="3" stroke-dasharray="20.49 10.09" stroke-dashoffset="3.61"/>
<line x1="1561.01" y1="385.5" x2="1632.2" y2="386.4" stroke="#ffb600" stroke-width="3" stroke-dasharray="19.5 9.6" stroke-dashoffset="23.54"/>
<line x1="959.85" y1="261.4" x2="971.71" y2="241.9" stroke="#000078" stroke-width="3" stroke-dasharray="22.83 11.24" stroke-dashoffset="0"/>
<line x1="971.71" y1="241.9" x2="999.4" y2="214.7" stroke="#000078" stroke-width="3" stroke-dasharray="27.34 13.46" stroke-dashoffset="27.34"/>
<line x1="999.4" y1="214.7" x2="1027.09" y2="223.8" stroke="#000078" stroke-width="3" stroke-dasharray="20.53 10.11" stroke-dashoffset="19.04"/>
<line x1="1027.09" y1="223.8" x2="1054.77" y2="192" stroke="#000078" stroke-width="3" stroke-dasharray="25.85 12.73" stroke-dashoffset="22.1"/>
<line x1="1054.77" y1="192" x2="1074.55" y2="188.8" stroke="#000078" stroke-width="3" stroke-dasharray="19.75 9.72" stroke-dashoffset="19.62"/>
<line x1="1074.55" y1="188.8" x2="1110.14" y2="167" stroke="#000078" stroke-width="3" stroke-dasharray="22.87 11.26" stroke-dashoffset="11.78"/>
<line x1="1110.14" y1="167" x2="1137.83" y2="239" stroke="#000078" stroke-width="3" stroke-dasharray="20.89 10.29" stroke-dashoffset="17.72"/>
<line x1="1137.83" y1="239" x2="1220.88" y2="245.3" stroke="#000078" stroke-width="3" stroke-dasharray="19.56 9.63" stroke-dashoffset="1.24"/>
<line x1="1220.88" y1="245.3" x2="1390.94" y2="219.2" stroke="#000078" stroke-width="3" stroke-dasharray="19.73 9.71" stroke-dashoffset="26.4"/>
<line x1="1390.94" y1="219.2" x2="1406.76" y2="197.3" stroke="#000078" stroke-width="3" stroke-dasharray="24.06 11.84" stroke-dashoffset="26.6"/>
<line x1="1406.76" y1="197.3" x2="1470.05" y2="114.9" stroke="#000078" stroke-width="3" stroke-dasharray="24.59 12.1" stroke-dashoffset="18.11"/>
<line x1="1470.05" y1="114.9" x2="1561.01" y2="386.9" stroke="#000078" stroke-width="3" stroke-dasharray="20.56 10.12" stroke-dashoffset="9.98"/>
<line x1="1561.01" y1="386.9" x2="1632.2" y2="387" stroke="#000078" stroke-width="3" stroke-dasharray="19.5 9.6" stroke-dashoffset="19.56"/>
<circle cx="959.85" cy="260" r="5.35" fill="#ff0000" stroke="#000" stroke-width="1.85"/>
<circle cx="971.71" cy="241" r="5.35" fill="#ff0000" stroke="#000" stroke-width="1.85"/>
<circle cx="999.4" cy="214.5" r="5.35" fill="#ff0000" stroke="#000" stroke-width="1.85"/>
<circle cx="1027.09" cy="216.5" r="5.35" fill="#ff0000" stroke="#000" stroke-width="1.85"/>
<circle cx="1054.77" cy="197.7" r="5.35" fill="#ff0000" stroke="#000" stroke-width="1.85"/>
<circle cx="1074.55" cy="190" r="5.35" fill="#ff0000" stroke="#000" stroke-width="1.85"/>
<circle cx="1110.14" cy="156.2" r="5.35" fill="#ff0000" stroke="#000" stroke-width="1.85"/>
<circle cx="1137.83" cy="225" r="5.35" fill="#ff0000" stroke="#000" stroke-width="1.85"/>
<circle cx="1220.88" cy="229.4" r="5.35" fill="#ff0000" stroke="#000" stroke-width="1.85"/>
<circle cx="1390.94" cy="155.7" r="5.35" fill="#ff0000" stroke="#000" stroke-width="1.85"/>
<circle cx="1406.76" cy="191" r="5.35" fill="#ff0000" stroke="#000" stroke-width="1.85"/>
<circle cx="1470.05" cy="109.5" r="5.35" fill="#ff0000" stroke="#000" stroke-width="1.85"/>
<circle cx="1561.01" cy="385.5" r="5.35" fill="#ff0000" stroke="#000" stroke-width="1.85"/>
<circle cx="1632.2" cy="386.4" r="5.35" fill="#ff0000" stroke="#000" stroke-width="1.85"/>
<circle cx="959.85" cy="260" r="5.35" fill="#ffb600" stroke="#000" stroke-width="1.85"/>
<circle cx="971.71" cy="253.1" r="5.35" fill="#ffb600" stroke="#000" stroke-width="1.85"/>
<circle cx="999.4" cy="214.6" r="5.35" fill="#ffb600" stroke="#000" stroke-width="1.85"/>
<circle cx="1027.09" cy="222.5" r="5.35" fill="#ffb600" stroke="#000" stroke-width="1.85"/>
<circle cx="1054.77" cy="184.1" r="5.35" fill="#ffb600" stroke="#000" stroke-width="1.85"/>
<circle cx="1074.55" cy="192.5" r="5.35" fill="#ffb600" stroke="#000" stroke-width="1.85"/>
<circle cx="1110.14" cy="165" r="5.35" fill="#ffb600" stroke="#000" stroke-width="1.85"/>
<circle cx="1137.83" cy="233.5" r="5.35" fill="#ffb600" stroke="#000" stroke-width="1.85"/>
<circle cx="1220.88" cy="250.3" r="5.35" fill="#ffb600" stroke="#000" stroke-width="1.85"/>
<circle cx="1390.94" cy="224.6" r="5.35" fill="#ffb600" stroke="#000" stroke-width="1.85"/>
<circle cx="1406.76" cy="191.2" r="5.35" fill="#ffb600" stroke="#000" stroke-width="1.85"/>
<circle cx="1470.05" cy="103.5" r="5.35" fill="#ffb600" stroke="#000" stroke-width="1.85"/>
<circle cx="1561.01" cy="385.5" r="5.35" fill="#ffb600" stroke="#000" stroke-width="1.85"/>
<circle cx="1632.2" cy="386.4" r="5.35" fill="#ffb600" stroke="#000" stroke-width="1.85"/>
<polygon points="953.79,257.9 965.91,257.9 959.85,268.4" fill="#000078" stroke="#000" stroke-width="1.85" stroke-linejoin="miter"/>
<polygon points="965.65,238.4 977.78,238.4 971.71,248.9" fill="#000078" stroke="#000" stroke-width="1.85" stroke-linejoin="miter"/>
<polygon points="993.34,211.2 1005.46,211.2 999.4,221.7" fill="#000078" stroke="#000" stroke-width="1.85" stroke-linejoin="miter"/>
<polygon points="1021.02,220.3 1033.15,220.3 1027.09,230.8" fill="#000078" stroke="#000" stroke-width="1.85" stroke-linejoin="miter"/>
<polygon points="1048.71,188.5 1060.83,188.5 1054.77,199" fill="#000078" stroke="#000" stroke-width="1.85" stroke-linejoin="miter"/>
<polygon points="1068.48,185.3 1080.61,185.3 1074.55,195.8" fill="#000078" stroke="#000" stroke-width="1.85" stroke-linejoin="miter"/>
<polygon points="1104.08,163.5 1116.2,163.5 1110.14,174" fill="#000078" stroke="#000" stroke-width="1.85" stroke-linejoin="miter"/>
<polygon points="1131.76,235.5 1143.89,235.5 1137.83,246" fill="#000078" stroke="#000" stroke-width="1.85" stroke-linejoin="miter"/>
<polygon points="1214.82,241.8 1226.94,241.8 1220.88,252.3" fill="#000078" stroke="#000" stroke-width="1.85" stroke-linejoin="miter"/>
<polygon points="1384.88,215.7 1397.01,215.7 1390.94,226.2" fill="#000078" stroke="#000" stroke-width="1.85" stroke-linejoin="miter"/>
<polygon points="1400.7,193.8 1412.83,193.8 1406.76,204.3" fill="#000078" stroke="#000" stroke-width="1.85" stroke-linejoin="miter"/>
<polygon points="1463.98,111.4 1476.11,111.4 1470.05,121.9" fill="#000078" stroke="#000" stroke-width="1.85" stroke-linejoin="miter"/>
<polygon points="1554.95,383.4 1567.07,383.4 1561.01,393.9" fill="#000078" stroke="#000" stroke-width="1.85" stroke-linejoin="miter"/>
<polygon points="1626.14,383.5 1638.26,383.5 1632.2,394" fill="#000078" stroke="#000" stroke-width="1.85" stroke-linejoin="miter"/>
<line x1="985.3" y1="67.1" x2="985.3" y2="571.2" stroke="#000" stroke-width="3.8" stroke-dasharray="13.7 10.64"/>
<line x1="1432.2" y1="66" x2="1432.2" y2="571.2" stroke="#000" stroke-width="3.6"/>
<rect x="920.2" y="66" width="724.8" height="505.2" fill="none" stroke="#000" stroke-width="1.7"/>
<line x1="154.9" y1="1167" x2="161.9" y2="1167" stroke="#000" stroke-width="1.7"/>
<line x1="154.9" y1="1082.58" x2="161.9" y2="1082.58" stroke="#000" stroke-width="1.7"/>
<line x1="154.9" y1="998.17" x2="161.9" y2="998.17" stroke="#000" stroke-width="1.7"/>
<line x1="154.9" y1="913.75" x2="161.9" y2="913.75" stroke="#000" stroke-width="1.7"/>
<line x1="154.9" y1="829.34" x2="161.9" y2="829.34" stroke="#000" stroke-width="1.7"/>
<line x1="154.9" y1="744.92" x2="161.9" y2="744.92" stroke="#000" stroke-width="1.7"/>
<line x1="154.9" y1="660.5" x2="161.9" y2="660.5" stroke="#000" stroke-width="1.7"/>
<text x="117.6" y="1178.4" font-size="36">0</text>
<text x="97.6" y="1093.98" font-size="36">20</text>
<text x="97.6" y="1009.57" font-size="36">40</text>
<text x="97.6" y="925.15" font-size="36">60</text>
<text x="97.6" y="840.74" font-size="36">80</text>
<text x="77.6" y="756.32" font-size="36">100</text>
<text x="77.6" y="671.9" font-size="36">120</text>
<line x1="161.9" y1="1167" x2="161.9" y2="1174.5" stroke="#000" stroke-width="1.7"/>
<line x1="280.55" y1="1167" x2="280.55" y2="1174.5" stroke="#000" stroke-width="1.7"/>
<line x1="403.15" y1="1167" x2="403.15" y2="1174.5" stroke="#000" stroke-width="1.7"/>
<line x1="525.76" y1="1167" x2="525.76" y2="1174.5" stroke="#000" stroke-width="1.7"/>
<line x1="644.41" y1="1167" x2="644.41" y2="1174.5" stroke="#000" stroke-width="1.7"/>
<line x1="767.01" y1="1167" x2="767.01" y2="1174.5" stroke="#000" stroke-width="1.7"/>
<line x1="885.66" y1="1167" x2="885.66" y2="1174.5" stroke="#000" stroke-width="1.7"/>
<line x1="173.77" y1="1167" x2="173.77" y2="1171.5" stroke="#000" stroke-width="1.5"/>
<line x1="201.45" y1="1167" x2="201.45" y2="1171.5" stroke="#000" stroke-width="1.5"/>
<line x1="229.13" y1="1167" x2="229.13" y2="1171.5" stroke="#000" stroke-width="1.5"/>
<line x1="256.82" y1="1167" x2="256.82" y2="1171.5" stroke="#000" stroke-width="1.5"/>
<line x1="284.5" y1="1167" x2="284.5" y2="1171.5" stroke="#000" stroke-width="1.5"/>
<line x1="312.19" y1="1167" x2="312.19" y2="1171.5" stroke="#000" stroke-width="1.5"/>
<line x1="339.88" y1="1167" x2="339.88" y2="1171.5" stroke="#000" stroke-width="1.5"/>
<line x1="367.56" y1="1167" x2="367.56" y2="1171.5" stroke="#000" stroke-width="1.5"/>
<line x1="395.25" y1="1167" x2="395.25" y2="1171.5" stroke="#000" stroke-width="1.5"/>
<line x1="422.93" y1="1167" x2="422.93" y2="1171.5" stroke="#000" stroke-width="1.5"/>
<line x1="450.62" y1="1167" x2="450.62" y2="1171.5" stroke="#000" stroke-width="1.5"/>
<line x1="478.3" y1="1167" x2="478.3" y2="1171.5" stroke="#000" stroke-width="1.5"/>
<line x1="505.99" y1="1167" x2="505.99" y2="1171.5" stroke="#000" stroke-width="1.5"/>
<line x1="533.67" y1="1167" x2="533.67" y2="1171.5" stroke="#000" stroke-width="1.5"/>
<line x1="561.36" y1="1167" x2="561.36" y2="1171.5" stroke="#000" stroke-width="1.5"/>
<line x1="589.04" y1="1167" x2="589.04" y2="1171.5" stroke="#000" stroke-width="1.5"/>
<line x1="616.73" y1="1167" x2="616.73" y2="1171.5" stroke="#000" stroke-width="1.5"/>
<line x1="672.1" y1="1167" x2="672.1" y2="1171.5" stroke="#000" stroke-width="1.5"/>
<line x1="699.78" y1="1167" x2="699.78" y2="1171.5" stroke="#000" stroke-width="1.5"/>
<line x1="727.47" y1="1167" x2="727.47" y2="1171.5" stroke="#000" stroke-width="1.5"/>
<line x1="755.15" y1="1167" x2="755.15" y2="1171.5" stroke="#000" stroke-width="1.5"/>
<line x1="782.84" y1="1167" x2="782.84" y2="1171.5" stroke="#000" stroke-width="1.5"/>
<line x1="810.52" y1="1167" x2="810.52" y2="1171.5" stroke="#000" stroke-width="1.5"/>
<line x1="838.21" y1="1167" x2="838.21" y2="1171.5" stroke="#000" stroke-width="1.5"/>
<line x1="865.89" y1="1167" x2="865.89" y2="1171.5" stroke="#000" stroke-width="1.5"/>
<text x="180.6" y="702.6" font-size="29">(c)</text>
<polyline points="213.31,1011.4 256.82,989.4 292.42,977.2 351.74,1004.2 383.38,1009.3 411.06,1082.1 438.75,1064 466.44,1106.1 494.12,1108.7 521.81,1103.6 549.49,1085 604.86,1123.3 723.51,1107.4 826.34,1155 873.8,1147.5" fill="none" stroke="#ff0000" stroke-width="3" stroke-linejoin="round"/>
<polyline points="213.31,994.5 256.82,1062.2 292.42,992 351.74,916.9 383.38,900.8 411.06,1052.6 438.75,861.6 466.44,1028.3 494.12,1073 521.81,1061.5 549.49,1047.4 604.86,1055.3 723.51,1065.2 826.34,1149.5 873.8,1152.3" fill="none" stroke="#ffb600" stroke-width="3" stroke-linejoin="round"/>
<polyline points="213.31,1040.9 256.82,1057.5 292.42,877.5 351.74,898.5 383.38,911.2 411.06,1041 438.75,909.2 466.44,1034.3 494.12,1049.7 521.81,1058.6 549.49,1047.1 604.86,1073.9 723.51,1087.5 826.34,1152 873.8,1154.3" fill="none" stroke="#000078" stroke-width="3" stroke-linejoin="round"/>
<path d="M213.31 990V1033M205.81 990H220.81M205.81 1033H220.81" stroke="#000" stroke-width="1.6" fill="none"/>
<path d="M256.82 948.1V1032.8M249.32 948.1H264.32M249.32 1032.8H264.32" stroke="#000" stroke-width="1.6" fill="none"/>
<path d="M292.42 970.3V984M284.92 970.3H299.92M284.92 984H299.92" stroke="#000" stroke-width="1.6" fill="none"/>
<path d="M351.74 1001V1007M344.24 1001H359.24M344.24 1007H359.24" stroke="#000" stroke-width="1.6" fill="none"/>
<path d="M383.38 1006V1012M375.88 1006H390.88M375.88 1012H390.88" stroke="#000" stroke-width="1.6" fill="none"/>
<path d="M411.06 1073.7V1091M403.56 1073.7H418.56M403.56 1091H418.56" stroke="#000" stroke-width="1.6" fill="none"/>
<path d="M438.75 1046.9V1083.2M431.25 1046.9H446.25M431.25 1083.2H446.25" stroke="#000" stroke-width="1.6" fill="none"/>
<path d="M466.44 1099.3V1114.6M458.94 1099.3H473.94M458.94 1114.6H473.94" stroke="#000" stroke-width="1.6" fill="none"/>
<path d="M494.12 1100.3V1119.4M486.62 1100.3H501.62M486.62 1119.4H501.62" stroke="#000" stroke-width="1.6" fill="none"/>
<path d="M521.81 1098V1110M514.31 1098H529.31M514.31 1110H529.31" stroke="#000" stroke-width="1.6" fill="none"/>
<path d="M549.49 1065.3V1105.4M541.99 1065.3H556.99M541.99 1105.4H556.99" stroke="#000" stroke-width="1.6" fill="none"/>
<path d="M604.86 1115.1V1133.1M597.36 1115.1H612.36M597.36 1133.1H612.36" stroke="#000" stroke-width="1.6" fill="none"/>
<path d="M723.51 1093.9V1121.3M716.01 1093.9H731.01M716.01 1121.3H731.01" stroke="#000" stroke-width="1.6" fill="none"/>
<path d="M826.34 1152V1158M818.84 1152H833.84M818.84 1158H833.84" stroke="#000" stroke-width="1.6" fill="none"/>
<path d="M873.8 1141.3V1154.3M866.3 1141.3H881.3M866.3 1154.3H881.3" stroke="#000" stroke-width="1.6" fill="none"/>
<circle cx="213.31" cy="1011.4" r="5.35" fill="#ff0000" stroke="#000" stroke-width="1.85"/>
<circle cx="256.82" cy="989.4" r="5.35" fill="#ff0000" stroke="#000" stroke-width="1.85"/>
<circle cx="292.42" cy="977.2" r="5.35" fill="#ff0000" stroke="#000" stroke-width="1.85"/>
<circle cx="351.74" cy="1004.2" r="5.35" fill="#ff0000" stroke="#000" stroke-width="1.85"/>
<circle cx="383.38" cy="1009.3" r="5.35" fill="#ff0000" stroke="#000" stroke-width="1.85"/>
<circle cx="411.06" cy="1082.1" r="5.35" fill="#ff0000" stroke="#000" stroke-width="1.85"/>
<circle cx="438.75" cy="1064" r="5.35" fill="#ff0000" stroke="#000" stroke-width="1.85"/>
<circle cx="466.44" cy="1106.1" r="5.35" fill="#ff0000" stroke="#000" stroke-width="1.85"/>
<circle cx="494.12" cy="1108.7" r="5.35" fill="#ff0000" stroke="#000" stroke-width="1.85"/>
<circle cx="521.81" cy="1103.6" r="5.35" fill="#ff0000" stroke="#000" stroke-width="1.85"/>
<circle cx="549.49" cy="1085" r="5.35" fill="#ff0000" stroke="#000" stroke-width="1.85"/>
<circle cx="604.86" cy="1123.3" r="5.35" fill="#ff0000" stroke="#000" stroke-width="1.85"/>
<circle cx="723.51" cy="1107.4" r="5.35" fill="#ff0000" stroke="#000" stroke-width="1.85"/>
<circle cx="826.34" cy="1155" r="5.35" fill="#ff0000" stroke="#000" stroke-width="1.85"/>
<circle cx="873.8" cy="1147.5" r="5.35" fill="#ff0000" stroke="#000" stroke-width="1.85"/>
<path d="M213.31 980.7V1008.3M205.81 980.7H220.81M205.81 1008.3H220.81" stroke="#000" stroke-width="1.6" fill="none"/>
<path d="M256.82 1045.8V1079.6M249.32 1045.8H264.32M249.32 1079.6H264.32" stroke="#000" stroke-width="1.6" fill="none"/>
<path d="M292.42 984.5V1001.7M284.92 984.5H299.92M284.92 1001.7H299.92" stroke="#000" stroke-width="1.6" fill="none"/>
<path d="M351.74 898.9V934.8M344.24 898.9H359.24M344.24 934.8H359.24" stroke="#000" stroke-width="1.6" fill="none"/>
<path d="M383.38 871.5V931.5M375.88 871.5H390.88M375.88 931.5H390.88" stroke="#000" stroke-width="1.6" fill="none"/>
<path d="M411.06 1044V1061M403.56 1044H418.56M403.56 1061H418.56" stroke="#000" stroke-width="1.6" fill="none"/>
<path d="M438.75 831.2V893.7M431.25 831.2H446.25M431.25 893.7H446.25" stroke="#000" stroke-width="1.6" fill="none"/>
<path d="M466.44 974.7V1083.9M458.94 974.7H473.94M458.94 1083.9H473.94" stroke="#000" stroke-width="1.6" fill="none"/>
<path d="M494.12 1066.6V1080.6M486.62 1066.6H501.62M486.62 1080.6H501.62" stroke="#000" stroke-width="1.6" fill="none"/>
<path d="M521.81 1058V1065M514.31 1058H529.31M514.31 1065H529.31" stroke="#000" stroke-width="1.6" fill="none"/>
<path d="M549.49 1031.6V1063M541.99 1031.6H556.99M541.99 1063H556.99" stroke="#000" stroke-width="1.6" fill="none"/>
<path d="M604.86 1044.9V1065.7M597.36 1044.9H612.36M597.36 1065.7H612.36" stroke="#000" stroke-width="1.6" fill="none"/>
<path d="M723.51 1026.8V1103.6M716.01 1026.8H731.01M716.01 1103.6H731.01" stroke="#000" stroke-width="1.6" fill="none"/>
<path d="M826.34 1142.1V1152M818.84 1142.1H833.84M818.84 1152H833.84" stroke="#000" stroke-width="1.6" fill="none"/>
<path d="M873.8 1149V1156M866.3 1149H881.3M866.3 1156H881.3" stroke="#000" stroke-width="1.6" fill="none"/>
<circle cx="213.31" cy="994.5" r="5.35" fill="#ffb600" stroke="#000" stroke-width="1.85"/>
<circle cx="256.82" cy="1062.2" r="5.35" fill="#ffb600" stroke="#000" stroke-width="1.85"/>
<circle cx="292.42" cy="992" r="5.35" fill="#ffb600" stroke="#000" stroke-width="1.85"/>
<circle cx="351.74" cy="916.9" r="5.35" fill="#ffb600" stroke="#000" stroke-width="1.85"/>
<circle cx="383.38" cy="900.8" r="5.35" fill="#ffb600" stroke="#000" stroke-width="1.85"/>
<circle cx="411.06" cy="1052.6" r="5.35" fill="#ffb600" stroke="#000" stroke-width="1.85"/>
<circle cx="438.75" cy="861.6" r="5.35" fill="#ffb600" stroke="#000" stroke-width="1.85"/>
<circle cx="466.44" cy="1028.3" r="5.35" fill="#ffb600" stroke="#000" stroke-width="1.85"/>
<circle cx="494.12" cy="1073" r="5.35" fill="#ffb600" stroke="#000" stroke-width="1.85"/>
<circle cx="521.81" cy="1061.5" r="5.35" fill="#ffb600" stroke="#000" stroke-width="1.85"/>
<circle cx="549.49" cy="1047.4" r="5.35" fill="#ffb600" stroke="#000" stroke-width="1.85"/>
<circle cx="604.86" cy="1055.3" r="5.35" fill="#ffb600" stroke="#000" stroke-width="1.85"/>
<circle cx="723.51" cy="1065.2" r="5.35" fill="#ffb600" stroke="#000" stroke-width="1.85"/>
<circle cx="826.34" cy="1149.5" r="5.35" fill="#ffb600" stroke="#000" stroke-width="1.85"/>
<circle cx="873.8" cy="1152.3" r="5.35" fill="#ffb600" stroke="#000" stroke-width="1.85"/>
<path d="M213.31 1033.3V1047.1M205.81 1033.3H220.81M205.81 1047.1H220.81" stroke="#000" stroke-width="1.6" fill="none"/>
<path d="M256.82 1016.5V1096.6M249.32 1016.5H264.32M249.32 1096.6H264.32" stroke="#000" stroke-width="1.6" fill="none"/>
<path d="M292.42 825V928.4M284.92 825H299.92M284.92 928.4H299.92" stroke="#000" stroke-width="1.6" fill="none"/>
<path d="M351.74 843.9V951.6M344.24 843.9H359.24M344.24 951.6H359.24" stroke="#000" stroke-width="1.6" fill="none"/>
<path d="M383.38 880.4V939.9M375.88 880.4H390.88M375.88 939.9H390.88" stroke="#000" stroke-width="1.6" fill="none"/>
<path d="M411.06 1021.4V1062.7M403.56 1021.4H418.56M403.56 1062.7H418.56" stroke="#000" stroke-width="1.6" fill="none"/>
<path d="M438.75 900.6V914.7M431.25 900.6H446.25M431.25 914.7H446.25" stroke="#000" stroke-width="1.6" fill="none"/>
<path d="M466.44 1016.8V1052M458.94 1016.8H473.94M458.94 1052H473.94" stroke="#000" stroke-width="1.6" fill="none"/>
<path d="M494.12 1041.8V1057.1M486.62 1041.8H501.62M486.62 1057.1H501.62" stroke="#000" stroke-width="1.6" fill="none"/>
<path d="M521.81 1051.3V1065.3M514.31 1051.3H529.31M514.31 1065.3H529.31" stroke="#000" stroke-width="1.6" fill="none"/>
<path d="M549.49 1036V1058M541.99 1036H556.99M541.99 1058H556.99" stroke="#000" stroke-width="1.6" fill="none"/>
<path d="M604.86 1067V1080.4M597.36 1067H612.36M597.36 1080.4H612.36" stroke="#000" stroke-width="1.6" fill="none"/>
<path d="M723.51 1030.1V1143.7M716.01 1030.1H731.01M716.01 1143.7H731.01" stroke="#000" stroke-width="1.6" fill="none"/>
<path d="M826.34 1147V1156M818.84 1147H833.84M818.84 1156H833.84" stroke="#000" stroke-width="1.6" fill="none"/>
<path d="M873.8 1151V1157.5M866.3 1151H881.3M866.3 1157.5H881.3" stroke="#000" stroke-width="1.6" fill="none"/>
<polygon points="207.25,1037.4 219.38,1037.4 213.31,1047.9" fill="#000078" stroke="#000" stroke-width="1.85" stroke-linejoin="miter"/>
<polygon points="250.76,1054 262.88,1054 256.82,1064.5" fill="#000078" stroke="#000" stroke-width="1.85" stroke-linejoin="miter"/>
<polygon points="286.35,874 298.48,874 292.42,884.5" fill="#000078" stroke="#000" stroke-width="1.85" stroke-linejoin="miter"/>
<polygon points="345.68,895 357.8,895 351.74,905.5" fill="#000078" stroke="#000" stroke-width="1.85" stroke-linejoin="miter"/>
<polygon points="377.32,907.7 389.44,907.7 383.38,918.2" fill="#000078" stroke="#000" stroke-width="1.85" stroke-linejoin="miter"/>
<polygon points="405,1037.5 417.13,1037.5 411.06,1048" fill="#000078" stroke="#000" stroke-width="1.85" stroke-linejoin="miter"/>
<polygon points="432.69,905.7 444.81,905.7 438.75,916.2" fill="#000078" stroke="#000" stroke-width="1.85" stroke-linejoin="miter"/>
<polygon points="460.37,1030.8 472.5,1030.8 466.44,1041.3" fill="#000078" stroke="#000" stroke-width="1.85" stroke-linejoin="miter"/>
<polygon points="488.06,1046.2 500.18,1046.2 494.12,1056.7" fill="#000078" stroke="#000" stroke-width="1.85" stroke-linejoin="miter"/>
<polygon points="515.74,1055.1 527.87,1055.1 521.81,1065.6" fill="#000078" stroke="#000" stroke-width="1.85" stroke-linejoin="miter"/>
<polygon points="543.43,1043.6 555.55,1043.6 549.49,1054.1" fill="#000078" stroke="#000" stroke-width="1.85" stroke-linejoin="miter"/>
<polygon points="598.8,1070.4 610.92,1070.4 604.86,1080.9" fill="#000078" stroke="#000" stroke-width="1.85" stroke-linejoin="miter"/>
<polygon points="717.45,1084 729.57,1084 723.51,1094.5" fill="#000078" stroke="#000" stroke-width="1.85" stroke-linejoin="miter"/>
<polygon points="820.28,1148.5 832.4,1148.5 826.34,1159" fill="#000078" stroke="#000" stroke-width="1.85" stroke-linejoin="miter"/>
<polygon points="867.74,1150.8 879.86,1150.8 873.8,1161.3" fill="#000078" stroke="#000" stroke-width="1.85" stroke-linejoin="miter"/>
<line x1="229.4" y1="666.4" x2="229.4" y2="1167" stroke="#000" stroke-width="3.8" stroke-dasharray="13.7 10.64"/>
<line x1="674.6" y1="887" x2="674.6" y2="1167" stroke="#000" stroke-width="3.6"/>
<rect x="161.9" y="660.4" width="724" height="506.6" fill="none" stroke="#000" stroke-width="1.7"/>
<line x1="625.3" y1="687.5" x2="867.2" y2="687.5" stroke="#333" stroke-width="1"/>
<line x1="866.6" y1="687.5" x2="866.6" y2="856.2" stroke="#555" stroke-width="0.9"/>
<line x1="867.6" y1="687.5" x2="867.6" y2="856.2" stroke="#7a5055" stroke-width="1"/>
<line x1="685.7" y1="761.97" x2="685.7" y2="771.85" stroke="#333" stroke-width="1"/>
<line x1="683.1" y1="761.97" x2="688.3" y2="761.97" stroke="#333" stroke-width="1"/>
<rect x="668.1" y="771.85" width="35.2" height="84.35" fill="#ff0000" stroke="#000" stroke-width="1.1"/>
<line x1="685.7" y1="856.2" x2="685.7" y2="859.2" stroke="#333" stroke-width="1"/>
<line x1="746.35" y1="716.18" x2="746.35" y2="733.53" stroke="#333" stroke-width="1"/>
<line x1="743.75" y1="716.18" x2="748.95" y2="716.18" stroke="#333" stroke-width="1"/>
<rect x="728.7" y="733.53" width="35.3" height="122.67" fill="#ffb600" stroke="#000" stroke-width="1.1"/>
<line x1="746.35" y1="856.2" x2="746.35" y2="859.2" stroke="#333" stroke-width="1"/>
<line x1="806.6" y1="707.5" x2="806.6" y2="730.16" stroke="#333" stroke-width="1"/>
<line x1="804" y1="707.5" x2="809.2" y2="707.5" stroke="#333" stroke-width="1"/>
<rect x="788.8" y="730.16" width="35.6" height="126.04" fill="#000078" stroke="#000" stroke-width="1.1"/>
<line x1="806.6" y1="856.2" x2="806.6" y2="859.2" stroke="#333" stroke-width="1"/>
<line x1="625.3" y1="687" x2="625.3" y2="856.7" stroke="#222" stroke-width="1.1"/>
<line x1="624.8" y1="856.2" x2="867.7" y2="856.2" stroke="#222" stroke-width="1.1"/>
<line x1="622.8" y1="856.2" x2="625.3" y2="856.2" stroke="#333" stroke-width="1"/>
<text x="612.2" y="859.9" font-size="10.2">0</text>
<line x1="622.8" y1="832.1" x2="625.3" y2="832.1" stroke="#333" stroke-width="1"/>
<text x="612.3" y="835.8" font-size="10.2">1</text>
<line x1="622.8" y1="808" x2="625.3" y2="808" stroke="#333" stroke-width="1"/>
<text x="612.3" y="811.7" font-size="10.2">2</text>
<line x1="622.8" y1="783.9" x2="625.3" y2="783.9" stroke="#333" stroke-width="1"/>
<text x="612.3" y="787.6" font-size="10.2">3</text>
<line x1="622.8" y1="759.8" x2="625.3" y2="759.8" stroke="#333" stroke-width="1"/>
<text x="612.1" y="763.5" font-size="10.2">4</text>
<line x1="622.8" y1="735.7" x2="625.3" y2="735.7" stroke="#333" stroke-width="1"/>
<text x="612.2" y="739.4" font-size="10.2">5</text>
<line x1="622.8" y1="711.6" x2="625.3" y2="711.6" stroke="#333" stroke-width="1"/>
<text x="612.3" y="715.3" font-size="10.2">6</text>
<line x1="622.8" y1="687.5" x2="625.3" y2="687.5" stroke="#333" stroke-width="1"/>
<text x="612.3" y="691.2" font-size="10.2">7</text>
<text x="666.6" y="874" font-size="10.5">Drought</text>
<text x="728.1" y="874" font-size="10.5">Rainfed</text>
<text x="787.15" y="874" font-size="10.5">Irrigated</text>
<text transform="translate(586.3,839.2) rotate(-90)" font-size="10.4">Cumulative CO<tspan font-size="7" dy="2.6">2</tspan><tspan dy="-2.6">-C emisisons</tspan></text>
<text transform="translate(603.4,792.1) rotate(-90)" font-size="10.4">(Mg ha<tspan font-size="7" dy="-5">-1</tspan><tspan dy="5">)</tspan></text>
<line x1="911" y1="1167" x2="918" y2="1167" stroke="#000" stroke-width="1.7"/>
<line x1="911" y1="1082.58" x2="918" y2="1082.58" stroke="#000" stroke-width="1.7"/>
<line x1="911" y1="998.17" x2="918" y2="998.17" stroke="#000" stroke-width="1.7"/>
<line x1="911" y1="913.75" x2="918" y2="913.75" stroke="#000" stroke-width="1.7"/>
<line x1="911" y1="829.34" x2="918" y2="829.34" stroke="#000" stroke-width="1.7"/>
<line x1="911" y1="744.92" x2="918" y2="744.92" stroke="#000" stroke-width="1.7"/>
<line x1="911" y1="660.5" x2="918" y2="660.5" stroke="#000" stroke-width="1.7"/>
<line x1="918" y1="1167" x2="918" y2="1174.5" stroke="#000" stroke-width="1.7"/>
<line x1="1036.65" y1="1167" x2="1036.65" y2="1174.5" stroke="#000" stroke-width="1.7"/>
<line x1="1159.26" y1="1167" x2="1159.26" y2="1174.5" stroke="#000" stroke-width="1.7"/>
<line x1="1281.86" y1="1167" x2="1281.86" y2="1174.5" stroke="#000" stroke-width="1.7"/>
<line x1="1400.51" y1="1167" x2="1400.51" y2="1174.5" stroke="#000" stroke-width="1.7"/>
<line x1="1523.12" y1="1167" x2="1523.12" y2="1174.5" stroke="#000" stroke-width="1.7"/>
<line x1="1641.76" y1="1167" x2="1641.76" y2="1174.5" stroke="#000" stroke-width="1.7"/>
<line x1="925.91" y1="1167" x2="925.91" y2="1171.5" stroke="#000" stroke-width="1.5"/>
<line x1="953.6" y1="1167" x2="953.6" y2="1171.5" stroke="#000" stroke-width="1.5"/>
<line x1="981.28" y1="1167" x2="981.28" y2="1171.5" stroke="#000" stroke-width="1.5"/>
<line x1="1008.97" y1="1167" x2="1008.97" y2="1171.5" stroke="#000" stroke-width="1.5"/>
<line x1="1064.34" y1="1167" x2="1064.34" y2="1171.5" stroke="#000" stroke-width="1.5"/>
<line x1="1092.02" y1="1167" x2="1092.02" y2="1171.5" stroke="#000" stroke-width="1.5"/>
<line x1="1119.7" y1="1167" x2="1119.7" y2="1171.5" stroke="#000" stroke-width="1.5"/>
<line x1="1147.39" y1="1167" x2="1147.39" y2="1171.5" stroke="#000" stroke-width="1.5"/>
<line x1="1175.08" y1="1167" x2="1175.08" y2="1171.5" stroke="#000" stroke-width="1.5"/>
<line x1="1202.76" y1="1167" x2="1202.76" y2="1171.5" stroke="#000" stroke-width="1.5"/>
<line x1="1230.44" y1="1167" x2="1230.44" y2="1171.5" stroke="#000" stroke-width="1.5"/>
<line x1="1258.13" y1="1167" x2="1258.13" y2="1171.5" stroke="#000" stroke-width="1.5"/>
<line x1="1285.82" y1="1167" x2="1285.82" y2="1171.5" stroke="#000" stroke-width="1.5"/>
<line x1="1313.5" y1="1167" x2="1313.5" y2="1171.5" stroke="#000" stroke-width="1.5"/>
<line x1="1341.18" y1="1167" x2="1341.18" y2="1171.5" stroke="#000" stroke-width="1.5"/>
<line x1="1368.87" y1="1167" x2="1368.87" y2="1171.5" stroke="#000" stroke-width="1.5"/>
<line x1="1396.56" y1="1167" x2="1396.56" y2="1171.5" stroke="#000" stroke-width="1.5"/>
<line x1="1424.24" y1="1167" x2="1424.24" y2="1171.5" stroke="#000" stroke-width="1.5"/>
<line x1="1451.92" y1="1167" x2="1451.92" y2="1171.5" stroke="#000" stroke-width="1.5"/>
<line x1="1479.61" y1="1167" x2="1479.61" y2="1171.5" stroke="#000" stroke-width="1.5"/>
<line x1="1507.3" y1="1167" x2="1507.3" y2="1171.5" stroke="#000" stroke-width="1.5"/>
<line x1="1534.98" y1="1167" x2="1534.98" y2="1171.5" stroke="#000" stroke-width="1.5"/>
<line x1="1562.66" y1="1167" x2="1562.66" y2="1171.5" stroke="#000" stroke-width="1.5"/>
<line x1="1590.35" y1="1167" x2="1590.35" y2="1171.5" stroke="#000" stroke-width="1.5"/>
<line x1="1618.03" y1="1167" x2="1618.03" y2="1171.5" stroke="#000" stroke-width="1.5"/>
<text x="934.8" y="697.1" font-size="29">(d)</text>
<polyline points="957.25,1067.4 969.12,1087 996.8,935.2 1024.49,951.3 1052.17,955.5 1071.95,1008.5 1107.54,1003.3 1135.23,1002.4 1218.28,1035.3 1388.35,968.9 1404.16,978.4 1467.45,1077.4 1558.41,1032.3 1629.6,1018.6" fill="none" stroke="#ff0000" stroke-width="3" stroke-linejoin="round"/>
<polyline points="957.25,1043.2 969.12,1053.7 996.8,870.8 1024.49,934.3 1052.17,752.1 1071.95,921.8 1107.54,916.9 1135.23,944.6 1218.28,953.7 1388.35,959.8 1404.16,940 1467.45,1039 1558.41,1014 1629.6,1002.4" fill="none" stroke="#ffb600" stroke-width="3" stroke-linejoin="round"/>
<polyline points="957.25,1079.4 969.12,1060.5 996.8,927.9 1024.49,959.7 1052.17,840.6 1071.95,960.7 1107.54,936.8 1135.23,987 1218.28,977.9 1388.35,958.1 1404.16,909 1467.45,1063.2 1558.41,1019 1629.6,1013" fill="none" stroke="#000078" stroke-width="3" stroke-linejoin="round"/>
<path d="M957.25 1060.3V1074.5M949.75 1060.3H964.75M949.75 1074.5H964.75" stroke="#000" stroke-width="1.6" fill="none"/>
<path d="M969.12 1081.5V1094.2M961.62 1081.5H976.62M961.62 1094.2H976.62" stroke="#000" stroke-width="1.6" fill="none"/>
<path d="M996.8 914.6V958.1M989.3 914.6H1004.3M989.3 958.1H1004.3" stroke="#000" stroke-width="1.6" fill="none"/>
<path d="M1052.17 939.8V973.5M1044.67 939.8H1059.67M1044.67 973.5H1059.67" stroke="#000" stroke-width="1.6" fill="none"/>
<path d="M1071.95 984V1033.4M1064.45 984H1079.45M1064.45 1033.4H1079.45" stroke="#000" stroke-width="1.6" fill="none"/>
<path d="M1107.54 999V1007M1100.04 999H1115.04M1100.04 1007H1115.04" stroke="#000" stroke-width="1.6" fill="none"/>
<path d="M1135.23 993V1011.6M1127.73 993H1142.73M1127.73 1011.6H1142.73" stroke="#000" stroke-width="1.6" fill="none"/>
<path d="M1218.28 1014.6V1057.3M1210.78 1014.6H1225.78M1210.78 1057.3H1225.78" stroke="#000" stroke-width="1.6" fill="none"/>
<path d="M1388.35 949.4V988.1M1380.85 949.4H1395.85M1380.85 988.1H1395.85" stroke="#000" stroke-width="1.6" fill="none"/>
<path d="M1404.16 973V985M1396.66 973H1411.66M1396.66 985H1411.66" stroke="#000" stroke-width="1.6" fill="none"/>
<path d="M1467.45 1055.5V1099.3M1459.95 1055.5H1474.95M1459.95 1099.3H1474.95" stroke="#000" stroke-width="1.6" fill="none"/>
<path d="M1558.41 1027V1038M1550.91 1027H1565.91M1550.91 1038H1565.91" stroke="#000" stroke-width="1.6" fill="none"/>
<path d="M1629.6 1007V1030.2M1622.1 1007H1637.1M1622.1 1030.2H1637.1" stroke="#000" stroke-width="1.6" fill="none"/>
<circle cx="957.25" cy="1067.4" r="5.35" fill="#ff0000" stroke="#000" stroke-width="1.85"/>
<circle cx="969.12" cy="1087" r="5.35" fill="#ff0000" stroke="#000" stroke-width="1.85"/>
<circle cx="996.8" cy="935.2" r="5.35" fill="#ff0000" stroke="#000" stroke-width="1.85"/>
<circle cx="1024.49" cy="951.3" r="5.35" fill="#ff0000" stroke="#000" stroke-width="1.85"/>
<circle cx="1052.17" cy="955.5" r="5.35" fill="#ff0000" stroke="#000" stroke-width="1.85"/>
<circle cx="1071.95" cy="1008.5" r="5.35" fill="#ff0000" stroke="#000" stroke-width="1.85"/>
<circle cx="1107.54" cy="1003.3" r="5.35" fill="#ff0000" stroke="#000" stroke-width="1.85"/>
<circle cx="1135.23" cy="1002.4" r="5.35" fill="#ff0000" stroke="#000" stroke-width="1.85"/>
<circle cx="1218.28" cy="1035.3" r="5.35" fill="#ff0000" stroke="#000" stroke-width="1.85"/>
<circle cx="1388.35" cy="968.9" r="5.35" fill="#ff0000" stroke="#000" stroke-width="1.85"/>
<circle cx="1404.16" cy="978.4" r="5.35" fill="#ff0000" stroke="#000" stroke-width="1.85"/>
<circle cx="1467.45" cy="1077.4" r="5.35" fill="#ff0000" stroke="#000" stroke-width="1.85"/>
<circle cx="1558.41" cy="1032.3" r="5.35" fill="#ff0000" stroke="#000" stroke-width="1.85"/>
<circle cx="1629.6" cy="1018.6" r="5.35" fill="#ff0000" stroke="#000" stroke-width="1.85"/>
<path d="M957.25 1033.7V1054.8M949.75 1033.7H964.75M949.75 1054.8H964.75" stroke="#000" stroke-width="1.6" fill="none"/>
<path d="M969.12 1042.4V1065M961.62 1042.4H976.62M961.62 1065H976.62" stroke="#000" stroke-width="1.6" fill="none"/>
<path d="M996.8 854.1V888.5M989.3 854.1H1004.3M989.3 888.5H1004.3" stroke="#000" stroke-width="1.6" fill="none"/>
<path d="M1024.49 911.4V955.5M1016.99 911.4H1031.99M1016.99 955.5H1031.99" stroke="#000" stroke-width="1.6" fill="none"/>
<path d="M1052.17 738V768.4M1044.67 738H1059.67M1044.67 768.4H1059.67" stroke="#000" stroke-width="1.6" fill="none"/>
<path d="M1071.95 899.9V945.7M1064.45 899.9H1079.45M1064.45 945.7H1079.45" stroke="#000" stroke-width="1.6" fill="none"/>
<path d="M1107.54 895V938.8M1100.04 895H1115.04M1100.04 938.8H1115.04" stroke="#000" stroke-width="1.6" fill="none"/>
<path d="M1135.23 918.1V972.9M1127.73 918.1H1142.73M1127.73 972.9H1142.73" stroke="#000" stroke-width="1.6" fill="none"/>
<path d="M1218.28 931.8V975.6M1210.78 931.8H1225.78M1210.78 975.6H1225.78" stroke="#000" stroke-width="1.6" fill="none"/>
<path d="M1388.35 955V965M1380.85 955H1395.85M1380.85 965H1395.85" stroke="#000" stroke-width="1.6" fill="none"/>
<path d="M1404.16 925V956.8M1396.66 925H1411.66M1396.66 956.8H1411.66" stroke="#000" stroke-width="1.6" fill="none"/>
<path d="M1467.45 1023.2V1054.8M1459.95 1023.2H1474.95M1459.95 1054.8H1474.95" stroke="#000" stroke-width="1.6" fill="none"/>
<path d="M1558.41 1010.4V1017.6M1550.91 1010.4H1565.91M1550.91 1017.6H1565.91" stroke="#000" stroke-width="1.6" fill="none"/>
<path d="M1629.6 989.7V1015.1M1622.1 989.7H1637.1M1622.1 1015.1H1637.1" stroke="#000" stroke-width="1.6" fill="none"/>
<circle cx="957.25" cy="1043.2" r="5.35" fill="#ffb600" stroke="#000" stroke-width="1.85"/>
<circle cx="969.12" cy="1053.7" r="5.35" fill="#ffb600" stroke="#000" stroke-width="1.85"/>
<circle cx="996.8" cy="870.8" r="5.35" fill="#ffb600" stroke="#000" stroke-width="1.85"/>
<circle cx="1024.49" cy="934.3" r="5.35" fill="#ffb600" stroke="#000" stroke-width="1.85"/>
<circle cx="1052.17" cy="752.1" r="5.35" fill="#ffb600" stroke="#000" stroke-width="1.85"/>
<circle cx="1071.95" cy="921.8" r="5.35" fill="#ffb600" stroke="#000" stroke-width="1.85"/>
<circle cx="1107.54" cy="916.9" r="5.35" fill="#ffb600" stroke="#000" stroke-width="1.85"/>
<circle cx="1135.23" cy="944.6" r="5.35" fill="#ffb600" stroke="#000" stroke-width="1.85"/>
<circle cx="1218.28" cy="953.7" r="5.35" fill="#ffb600" stroke="#000" stroke-width="1.85"/>
<circle cx="1388.35" cy="959.8" r="5.35" fill="#ffb600" stroke="#000" stroke-width="1.85"/>
<circle cx="1404.16" cy="940" r="5.35" fill="#ffb600" stroke="#000" stroke-width="1.85"/>
<circle cx="1467.45" cy="1039" r="5.35" fill="#ffb600" stroke="#000" stroke-width="1.85"/>
<circle cx="1558.41" cy="1014" r="5.35" fill="#ffb600" stroke="#000" stroke-width="1.85"/>
<circle cx="1629.6" cy="1002.4" r="5.35" fill="#ffb600" stroke="#000" stroke-width="1.85"/>
<path d="M957.25 1067V1091.9M949.75 1067H964.75M949.75 1091.9H964.75" stroke="#000" stroke-width="1.6" fill="none"/>
<path d="M969.12 1053V1068M961.62 1053H976.62M961.62 1068H976.62" stroke="#000" stroke-width="1.6" fill="none"/>
<path d="M996.8 919.5V936M989.3 919.5H1004.3M989.3 936H1004.3" stroke="#000" stroke-width="1.6" fill="none"/>
<path d="M1024.49 938.7V980.7M1016.99 938.7H1031.99M1016.99 980.7H1031.99" stroke="#000" stroke-width="1.6" fill="none"/>
<path d="M1052.17 814.9V866.5M1044.67 814.9H1059.67M1044.67 866.5H1059.67" stroke="#000" stroke-width="1.6" fill="none"/>
<path d="M1071.95 945.7V985.6M1064.45 945.7H1079.45M1064.45 985.6H1079.45" stroke="#000" stroke-width="1.6" fill="none"/>
<path d="M1107.54 903.8V968.6M1100.04 903.8H1115.04M1100.04 968.6H1115.04" stroke="#000" stroke-width="1.6" fill="none"/>
<path d="M1135.23 974.4V995.1M1127.73 974.4H1142.73M1127.73 995.1H1142.73" stroke="#000" stroke-width="1.6" fill="none"/>
<path d="M1218.28 950V1001.8M1210.78 950H1225.78M1210.78 1001.8H1225.78" stroke="#000" stroke-width="1.6" fill="none"/>
<path d="M1388.35 949.4V966.8M1380.85 949.4H1395.85M1380.85 966.8H1395.85" stroke="#000" stroke-width="1.6" fill="none"/>
<path d="M1404.16 893.7V924.2M1396.66 893.7H1411.66M1396.66 924.2H1411.66" stroke="#000" stroke-width="1.6" fill="none"/>
<path d="M1467.45 1055V1071M1459.95 1055H1474.95M1459.95 1071H1474.95" stroke="#000" stroke-width="1.6" fill="none"/>
<path d="M1558.41 1014V1024M1550.91 1014H1565.91M1550.91 1024H1565.91" stroke="#000" stroke-width="1.6" fill="none"/>
<path d="M1629.6 1009V1017M1622.1 1009H1637.1M1622.1 1017H1637.1" stroke="#000" stroke-width="1.6" fill="none"/>
<polygon points="951.19,1075.9 963.31,1075.9 957.25,1086.4" fill="#000078" stroke="#000" stroke-width="1.85" stroke-linejoin="miter"/>
<polygon points="963.05,1057 975.18,1057 969.12,1067.5" fill="#000078" stroke="#000" stroke-width="1.85" stroke-linejoin="miter"/>
<polygon points="990.74,924.4 1002.86,924.4 996.8,934.9" fill="#000078" stroke="#000" stroke-width="1.85" stroke-linejoin="miter"/>
<polygon points="1018.42,956.2 1030.55,956.2 1024.49,966.7" fill="#000078" stroke="#000" stroke-width="1.85" stroke-linejoin="miter"/>
<polygon points="1046.11,837.1 1058.23,837.1 1052.17,847.6" fill="#000078" stroke="#000" stroke-width="1.85" stroke-linejoin="miter"/>
<polygon points="1065.88,957.2 1078.01,957.2 1071.95,967.7" fill="#000078" stroke="#000" stroke-width="1.85" stroke-linejoin="miter"/>
<polygon points="1101.48,933.3 1113.6,933.3 1107.54,943.8" fill="#000078" stroke="#000" stroke-width="1.85" stroke-linejoin="miter"/>
<polygon points="1129.16,983.5 1141.29,983.5 1135.23,994" fill="#000078" stroke="#000" stroke-width="1.85" stroke-linejoin="miter"/>
<polygon points="1212.22,974.4 1224.34,974.4 1218.28,984.9" fill="#000078" stroke="#000" stroke-width="1.85" stroke-linejoin="miter"/>
<polygon points="1382.28,954.6 1394.41,954.6 1388.35,965.1" fill="#000078" stroke="#000" stroke-width="1.85" stroke-linejoin="miter"/>
<polygon points="1398.1,905.5 1410.23,905.5 1404.16,916" fill="#000078" stroke="#000" stroke-width="1.85" stroke-linejoin="miter"/>
<polygon points="1461.38,1059.7 1473.51,1059.7 1467.45,1070.2" fill="#000078" stroke="#000" stroke-width="1.85" stroke-linejoin="miter"/>
<polygon points="1552.35,1015.5 1564.47,1015.5 1558.41,1026" fill="#000078" stroke="#000" stroke-width="1.85" stroke-linejoin="miter"/>
<polygon points="1623.54,1009.5 1635.66,1009.5 1629.6,1020" fill="#000078" stroke="#000" stroke-width="1.85" stroke-linejoin="miter"/>
<line x1="985.9" y1="667.5" x2="985.9" y2="1167" stroke="#000" stroke-width="3.8" stroke-dasharray="13.7 10.64"/>
<line x1="1432.2" y1="884.6" x2="1432.2" y2="1167" stroke="#000" stroke-width="3.6"/>
<rect x="918" y="660.3" width="723.8" height="506.7" fill="none" stroke="#000" stroke-width="1.7"/>
<line x1="1379.2" y1="687.5" x2="1621.4" y2="687.5" stroke="#333" stroke-width="1"/>
<line x1="1620.8" y1="687.5" x2="1620.8" y2="856.2" stroke="#555" stroke-width="0.9"/>
<line x1="1621.8" y1="687.5" x2="1621.8" y2="856.2" stroke="#7a5055" stroke-width="1"/>
<line x1="1439.65" y1="766.55" x2="1439.65" y2="779.32" stroke="#333" stroke-width="1"/>
<line x1="1437.05" y1="766.55" x2="1442.25" y2="766.55" stroke="#333" stroke-width="1"/>
<rect x="1422.1" y="779.32" width="35.1" height="76.88" fill="#ff0000" stroke="#000" stroke-width="1.1"/>
<line x1="1439.65" y1="856.2" x2="1439.65" y2="859.2" stroke="#333" stroke-width="1"/>
<line x1="1500.3" y1="718.35" x2="1500.3" y2="731.6" stroke="#333" stroke-width="1"/>
<line x1="1497.7" y1="718.35" x2="1502.9" y2="718.35" stroke="#333" stroke-width="1"/>
<rect x="1482.6" y="731.6" width="35.4" height="124.6" fill="#ffb600" stroke="#000" stroke-width="1.1"/>
<line x1="1500.3" y1="856.2" x2="1500.3" y2="859.2" stroke="#333" stroke-width="1"/>
<line x1="1560.65" y1="702.92" x2="1560.65" y2="716.66" stroke="#333" stroke-width="1"/>
<line x1="1558.05" y1="702.92" x2="1563.25" y2="702.92" stroke="#333" stroke-width="1"/>
<rect x="1542.8" y="716.66" width="35.7" height="139.54" fill="#000078" stroke="#000" stroke-width="1.1"/>
<line x1="1560.65" y1="856.2" x2="1560.65" y2="859.2" stroke="#333" stroke-width="1"/>
<line x1="1379.2" y1="687" x2="1379.2" y2="856.7" stroke="#222" stroke-width="1.1"/>
<line x1="1378.7" y1="856.2" x2="1621.9" y2="856.2" stroke="#222" stroke-width="1.1"/>
<line x1="1376.7" y1="856.2" x2="1379.2" y2="856.2" stroke="#333" stroke-width="1"/>
<text x="1366.1" y="859.9" font-size="10.2">0</text>
<line x1="1376.7" y1="832.1" x2="1379.2" y2="832.1" stroke="#333" stroke-width="1"/>
<text x="1366.2" y="835.8" font-size="10.2">1</text>
<line x1="1376.7" y1="808" x2="1379.2" y2="808" stroke="#333" stroke-width="1"/>
<text x="1366.2" y="811.7" font-size="10.2">2</text>
<line x1="1376.7" y1="783.9" x2="1379.2" y2="783.9" stroke="#333" stroke-width="1"/>
<text x="1366.2" y="787.6" font-size="10.2">3</text>
<line x1="1376.7" y1="759.8" x2="1379.2" y2="759.8" stroke="#333" stroke-width="1"/>
<text x="1366" y="763.5" font-size="10.2">4</text>
<line x1="1376.7" y1="735.7" x2="1379.2" y2="735.7" stroke="#333" stroke-width="1"/>
<text x="1366.1" y="739.4" font-size="10.2">5</text>
<line x1="1376.7" y1="711.6" x2="1379.2" y2="711.6" stroke="#333" stroke-width="1"/>
<text x="1366.2" y="715.3" font-size="10.2">6</text>
<line x1="1376.7" y1="687.5" x2="1379.2" y2="687.5" stroke="#333" stroke-width="1"/>
<text x="1366.2" y="691.2" font-size="10.2">7</text>
<text x="1420.55" y="874" font-size="10.5">Drought</text>
<text x="1482.05" y="874" font-size="10.5">Rainfed</text>
<text x="1541.2" y="874" font-size="10.5">Irrigated</text>
<text transform="translate(1340.8,839.2) rotate(-90)" font-size="10.4">Cumulative CO<tspan font-size="7" dy="2.6">2</tspan><tspan dy="-2.6">-C emisisons</tspan></text>
<text transform="translate(1357.9,792.1) rotate(-90)" font-size="10.4">(Mg ha<tspan font-size="7" dy="-5">-1</tspan><tspan dy="5">)</tspan></text>
<text x="121.1" y="1224" font-size="36">Jun</text>
<text x="246.1" y="1224" font-size="36">Jul</text>
<text x="360.7" y="1224" font-size="36">Aug</text>
<text x="482" y="1224" font-size="36">Sep</text>
<text x="604.6" y="1224" font-size="36">Oct</text>
<text x="724.4" y="1224" font-size="36">Nov</text>
<text x="841.7" y="1224" font-size="36">De</text>
<text x="905.2" y="1221.5" font-size="36">Jun</text>
<text x="1002.2" y="1224" font-size="36">Jul</text>
<text x="1116.9" y="1224" font-size="36">Aug</text>
<text x="1239.4" y="1224" font-size="36">Sep</text>
<text x="1361.2" y="1224" font-size="36">Oct</text>
<text x="1480.5" y="1224" font-size="36">Nov</text>
<text x="1599.2" y="1224" font-size="36">Dec</text>
<text transform="translate(63.2,456.1) rotate(-90)" font-size="36">Soil Moisture (%)</text>
<text transform="translate(41.3,1065.9) rotate(-90)" font-size="36">CO<tspan font-size="24" dx="0.5" dy="9.5">2</tspan><tspan dx="1" dy="-9.5">-C (kg ha</tspan><tspan font-size="24" dx="3" dy="-20.5">-1</tspan><tspan dx="-2.3" dy="20.5"> d</tspan><tspan font-size="24" dx="2.1" dy="-20.5">-1</tspan><tspan dx="2.1" dy="20.5">)</tspan></text>
<text transform="translate(1736.3,143.1) rotate(90)" font-size="36.7">Soil Temperature (<tspan font-size="20" dx="2" dy="-16">o</tspan><tspan dx="2.5" dy="16">C)</tspan></text>
</svg></body></html>
